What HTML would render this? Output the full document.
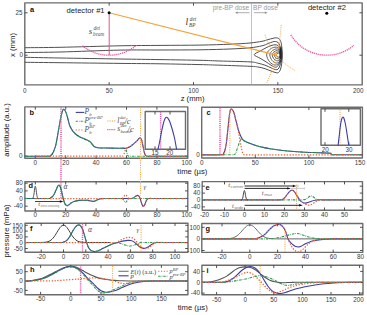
<!DOCTYPE html>
<html><head><meta charset="utf-8"><style>
html,body{margin:0;padding:0;background:#fff;}
svg{display:block;font-family:"Liberation Sans",sans-serif;}
.serif{font-family:"Liberation Serif",serif;font-style:italic;}
.rserif{font-family:"Liberation Serif",serif;}
</style></head><body>
<svg width="367" height="315" viewBox="0 0 367 315">
<rect width="367" height="315" fill="#fff"/>
<rect x="24.8" y="2.9" width="337.40" height="82.00" fill="none" stroke="#6c6c6c" stroke-width="1.4" stroke-linejoin="round"/>
<line x1="109.14999999999999" y1="84.9" x2="109.14999999999999" y2="82.10000000000001" stroke="#404040" stroke-width="0.9"/>
<line x1="109.14999999999999" y1="2.9" x2="109.14999999999999" y2="5.699999999999999" stroke="#404040" stroke-width="0.9"/>
<line x1="193.5" y1="84.9" x2="193.5" y2="82.10000000000001" stroke="#404040" stroke-width="0.9"/>
<line x1="193.5" y1="2.9" x2="193.5" y2="5.699999999999999" stroke="#404040" stroke-width="0.9"/>
<line x1="277.84999999999997" y1="84.9" x2="277.84999999999997" y2="82.10000000000001" stroke="#404040" stroke-width="0.9"/>
<line x1="277.84999999999997" y1="2.9" x2="277.84999999999997" y2="5.699999999999999" stroke="#404040" stroke-width="0.9"/>
<line x1="24.8" y1="12.8" x2="27.6" y2="12.8" stroke="#404040" stroke-width="0.9"/>
<line x1="362.2" y1="12.8" x2="359.4" y2="12.8" stroke="#404040" stroke-width="0.9"/>
<line x1="24.8" y1="55.2" x2="27.6" y2="55.2" stroke="#404040" stroke-width="0.9"/>
<line x1="362.2" y1="55.2" x2="359.4" y2="55.2" stroke="#404040" stroke-width="0.9"/>
<text x="24.8" y="93.06" font-size="6.3" text-anchor="middle" fill="#3a3a3a" >0</text>
<text x="109.2" y="93.06" font-size="6.3" text-anchor="middle" fill="#3a3a3a" >50</text>
<text x="193.4" y="93.06" font-size="6.3" text-anchor="middle" fill="#3a3a3a" >100</text>
<text x="277.9" y="93.06" font-size="6.3" text-anchor="middle" fill="#3a3a3a" >150</text>
<text x="358.3" y="93.06" font-size="6.3" text-anchor="middle" fill="#3a3a3a" >200</text>
<text x="22.5" y="15.16" font-size="6.3" text-anchor="end" fill="#3a3a3a" >25</text>
<text x="22.9" y="57.46" font-size="6.3" text-anchor="end" fill="#3a3a3a" >0</text>
<text x="192.6" y="100.6" font-size="7.7" text-anchor="middle" fill="#222">z (mm)</text>
<text transform="translate(14.98,45) rotate(-90)" font-size="7.7" text-anchor="middle" fill="#222">x (mm)</text>
<text x="29.9" y="12.2" font-size="7.4" font-weight="bold" fill="#111">a</text>
<rect x="24.8" y="106.9" width="163.00" height="51.30" fill="none" stroke="#6c6c6c" stroke-width="1.4" stroke-linejoin="round"/>
<line x1="35.3" y1="158.2" x2="35.3" y2="155.39999999999998" stroke="#404040" stroke-width="0.9"/>
<line x1="35.3" y1="106.9" x2="35.3" y2="109.7" stroke="#404040" stroke-width="0.9"/>
<text x="35.3" y="164.86" font-size="6.3" text-anchor="middle" fill="#3a3a3a" >0</text>
<line x1="65.69999999999999" y1="158.2" x2="65.69999999999999" y2="155.39999999999998" stroke="#404040" stroke-width="0.9"/>
<line x1="65.69999999999999" y1="106.9" x2="65.69999999999999" y2="109.7" stroke="#404040" stroke-width="0.9"/>
<text x="65.69999999999999" y="164.86" font-size="6.3" text-anchor="middle" fill="#3a3a3a" >20</text>
<line x1="96.1" y1="158.2" x2="96.1" y2="155.39999999999998" stroke="#404040" stroke-width="0.9"/>
<line x1="96.1" y1="106.9" x2="96.1" y2="109.7" stroke="#404040" stroke-width="0.9"/>
<text x="96.1" y="164.86" font-size="6.3" text-anchor="middle" fill="#3a3a3a" >40</text>
<line x1="126.5" y1="158.2" x2="126.5" y2="155.39999999999998" stroke="#404040" stroke-width="0.9"/>
<line x1="126.5" y1="106.9" x2="126.5" y2="109.7" stroke="#404040" stroke-width="0.9"/>
<text x="126.5" y="164.86" font-size="6.3" text-anchor="middle" fill="#3a3a3a" >60</text>
<line x1="156.89999999999998" y1="158.2" x2="156.89999999999998" y2="155.39999999999998" stroke="#404040" stroke-width="0.9"/>
<line x1="156.89999999999998" y1="106.9" x2="156.89999999999998" y2="109.7" stroke="#404040" stroke-width="0.9"/>
<text x="156.89999999999998" y="164.86" font-size="6.3" text-anchor="middle" fill="#3a3a3a" >80</text>
<text x="186.7" y="164.86" font-size="6.3" text-anchor="middle" fill="#3a3a3a" >100</text>
<line x1="24.8" y1="156.2" x2="27.6" y2="156.2" stroke="#404040" stroke-width="0.9"/>
<line x1="187.8" y1="156.2" x2="185.0" y2="156.2" stroke="#404040" stroke-width="0.9"/>
<text x="22.6" y="158.06" font-size="6.3" text-anchor="end" fill="#3a3a3a" >0</text>
<text x="29.5" y="114.6" font-size="7.4" font-weight="bold" fill="#111">b</text>
<text x="192.4" y="173.6" font-size="7.7" text-anchor="middle" fill="#222">time (µs)</text>
<text transform="translate(8.78,130) rotate(-90)" font-size="7.7" text-anchor="middle" fill="#222">amplitude (a.u.)</text>
<rect x="201.7" y="107.2" width="160.70" height="50.80" fill="none" stroke="#6c6c6c" stroke-width="1.4" stroke-linejoin="round"/>
<line x1="255.29999999999998" y1="158.0" x2="255.29999999999998" y2="155.2" stroke="#404040" stroke-width="0.9"/>
<line x1="255.29999999999998" y1="107.2" x2="255.29999999999998" y2="110.0" stroke="#404040" stroke-width="0.9"/>
<line x1="308.9" y1="158.0" x2="308.9" y2="155.2" stroke="#404040" stroke-width="0.9"/>
<line x1="308.9" y1="107.2" x2="308.9" y2="110.0" stroke="#404040" stroke-width="0.9"/>
<text x="201.7" y="164.66" font-size="6.3" text-anchor="middle" fill="#3a3a3a" >0</text>
<text x="255.29999999999998" y="164.66" font-size="6.3" text-anchor="middle" fill="#3a3a3a" >50</text>
<text x="308.9" y="164.66" font-size="6.3" text-anchor="middle" fill="#3a3a3a" >100</text>
<text x="360.1" y="164.66" font-size="6.3" text-anchor="middle" fill="#3a3a3a" >150</text>
<line x1="201.7" y1="154.8" x2="204.5" y2="154.8" stroke="#404040" stroke-width="0.9"/>
<line x1="362.4" y1="154.8" x2="359.59999999999997" y2="154.8" stroke="#404040" stroke-width="0.9"/>
<text x="199.8" y="157.26" font-size="6.3" text-anchor="end" fill="#3a3a3a" >0</text>
<text x="206.6" y="114.8" font-size="7.4" font-weight="bold" fill="#111">c</text>
<rect x="24.9" y="181.7" width="162.90" height="29.30" fill="none" stroke="#6c6c6c" stroke-width="1.4" stroke-linejoin="round"/>
<line x1="35.3" y1="211.0" x2="35.3" y2="208.2" stroke="#404040" stroke-width="0.9"/>
<line x1="35.3" y1="181.7" x2="35.3" y2="184.5" stroke="#404040" stroke-width="0.9"/>
<text x="35.3" y="217.06" font-size="6.3" text-anchor="middle" fill="#3a3a3a" >0</text>
<line x1="65.69999999999999" y1="211.0" x2="65.69999999999999" y2="208.2" stroke="#404040" stroke-width="0.9"/>
<line x1="65.69999999999999" y1="181.7" x2="65.69999999999999" y2="184.5" stroke="#404040" stroke-width="0.9"/>
<text x="65.69999999999999" y="217.06" font-size="6.3" text-anchor="middle" fill="#3a3a3a" >20</text>
<line x1="96.1" y1="211.0" x2="96.1" y2="208.2" stroke="#404040" stroke-width="0.9"/>
<line x1="96.1" y1="181.7" x2="96.1" y2="184.5" stroke="#404040" stroke-width="0.9"/>
<text x="96.1" y="217.06" font-size="6.3" text-anchor="middle" fill="#3a3a3a" >40</text>
<line x1="126.5" y1="211.0" x2="126.5" y2="208.2" stroke="#404040" stroke-width="0.9"/>
<line x1="126.5" y1="181.7" x2="126.5" y2="184.5" stroke="#404040" stroke-width="0.9"/>
<text x="126.5" y="217.06" font-size="6.3" text-anchor="middle" fill="#3a3a3a" >60</text>
<line x1="156.89999999999998" y1="211.0" x2="156.89999999999998" y2="208.2" stroke="#404040" stroke-width="0.9"/>
<line x1="156.89999999999998" y1="181.7" x2="156.89999999999998" y2="184.5" stroke="#404040" stroke-width="0.9"/>
<text x="156.89999999999998" y="217.06" font-size="6.3" text-anchor="middle" fill="#3a3a3a" >80</text>
<text x="186.7" y="217.06" font-size="6.3" text-anchor="middle" fill="#3a3a3a" >100</text>
<line x1="24.9" y1="183.2" x2="27.7" y2="183.2" stroke="#404040" stroke-width="0.9"/>
<line x1="187.8" y1="183.2" x2="185.0" y2="183.2" stroke="#404040" stroke-width="0.9"/>
<text x="22.8" y="185.46" font-size="6.3" text-anchor="end" fill="#3a3a3a" >80</text>
<line x1="24.9" y1="190.9" x2="27.7" y2="190.9" stroke="#404040" stroke-width="0.9"/>
<line x1="187.8" y1="190.9" x2="185.0" y2="190.9" stroke="#404040" stroke-width="0.9"/>
<text x="22.8" y="193.16" font-size="6.3" text-anchor="end" fill="#3a3a3a" >40</text>
<line x1="24.9" y1="198.4" x2="27.7" y2="198.4" stroke="#404040" stroke-width="0.9"/>
<line x1="187.8" y1="198.4" x2="185.0" y2="198.4" stroke="#404040" stroke-width="0.9"/>
<text x="22.8" y="200.66" font-size="6.3" text-anchor="end" fill="#3a3a3a" >0</text>
<line x1="24.9" y1="206.2" x2="27.7" y2="206.2" stroke="#404040" stroke-width="0.9"/>
<line x1="187.8" y1="206.2" x2="185.0" y2="206.2" stroke="#404040" stroke-width="0.9"/>
<text x="22.8" y="208.46" font-size="6.3" text-anchor="end" fill="#3a3a3a" >-40</text>
<text x="28.4" y="187.6" font-size="7.4" font-weight="bold" fill="#111">d</text>
<rect x="202.2" y="181.6" width="160.30" height="28.70" fill="none" stroke="#6c6c6c" stroke-width="1.4" stroke-linejoin="round"/>
<line x1="224.5" y1="210.3" x2="224.5" y2="207.5" stroke="#404040" stroke-width="0.9"/>
<line x1="224.5" y1="181.6" x2="224.5" y2="184.4" stroke="#404040" stroke-width="0.9"/>
<line x1="244.5" y1="210.3" x2="244.5" y2="207.5" stroke="#404040" stroke-width="0.9"/>
<line x1="244.5" y1="181.6" x2="244.5" y2="184.4" stroke="#404040" stroke-width="0.9"/>
<line x1="264.5" y1="210.3" x2="264.5" y2="207.5" stroke="#404040" stroke-width="0.9"/>
<line x1="264.5" y1="181.6" x2="264.5" y2="184.4" stroke="#404040" stroke-width="0.9"/>
<line x1="284.5" y1="210.3" x2="284.5" y2="207.5" stroke="#404040" stroke-width="0.9"/>
<line x1="284.5" y1="181.6" x2="284.5" y2="184.4" stroke="#404040" stroke-width="0.9"/>
<line x1="304.5" y1="210.3" x2="304.5" y2="207.5" stroke="#404040" stroke-width="0.9"/>
<line x1="304.5" y1="181.6" x2="304.5" y2="184.4" stroke="#404040" stroke-width="0.9"/>
<line x1="324.5" y1="210.3" x2="324.5" y2="207.5" stroke="#404040" stroke-width="0.9"/>
<line x1="324.5" y1="181.6" x2="324.5" y2="184.4" stroke="#404040" stroke-width="0.9"/>
<line x1="344.5" y1="210.3" x2="344.5" y2="207.5" stroke="#404040" stroke-width="0.9"/>
<line x1="344.5" y1="181.6" x2="344.5" y2="184.4" stroke="#404040" stroke-width="0.9"/>
<text x="204.5" y="217.26" font-size="6.3" text-anchor="middle" fill="#3a3a3a" >-20</text>
<text x="224.5" y="217.26" font-size="6.3" text-anchor="middle" fill="#3a3a3a" >-10</text>
<text x="244.5" y="217.26" font-size="6.3" text-anchor="middle" fill="#3a3a3a" >0</text>
<text x="264.5" y="217.26" font-size="6.3" text-anchor="middle" fill="#3a3a3a" >10</text>
<text x="284.5" y="217.26" font-size="6.3" text-anchor="middle" fill="#3a3a3a" >20</text>
<text x="304.5" y="217.26" font-size="6.3" text-anchor="middle" fill="#3a3a3a" >30</text>
<text x="324.5" y="217.26" font-size="6.3" text-anchor="middle" fill="#3a3a3a" >40</text>
<text x="344.5" y="217.26" font-size="6.3" text-anchor="middle" fill="#3a3a3a" >50</text>
<line x1="202.2" y1="186.2" x2="205.0" y2="186.2" stroke="#404040" stroke-width="0.9"/>
<line x1="362.5" y1="186.2" x2="359.7" y2="186.2" stroke="#404040" stroke-width="0.9"/>
<text x="200.2" y="188.46" font-size="6.3" text-anchor="end" fill="#3a3a3a" >80</text>
<line x1="202.2" y1="193.1" x2="205.0" y2="193.1" stroke="#404040" stroke-width="0.9"/>
<line x1="362.5" y1="193.1" x2="359.7" y2="193.1" stroke="#404040" stroke-width="0.9"/>
<text x="200.2" y="195.36" font-size="6.3" text-anchor="end" fill="#3a3a3a" >40</text>
<line x1="202.2" y1="200.0" x2="205.0" y2="200.0" stroke="#404040" stroke-width="0.9"/>
<line x1="362.5" y1="200.0" x2="359.7" y2="200.0" stroke="#404040" stroke-width="0.9"/>
<text x="200.2" y="202.26" font-size="6.3" text-anchor="end" fill="#3a3a3a" >0</text>
<line x1="202.2" y1="206.9" x2="205.0" y2="206.9" stroke="#404040" stroke-width="0.9"/>
<line x1="362.5" y1="206.9" x2="359.7" y2="206.9" stroke="#404040" stroke-width="0.9"/>
<text x="200.2" y="209.16" font-size="6.3" text-anchor="end" fill="#3a3a3a" >-40</text>
<text x="205.5" y="189.9" font-size="7.4" font-weight="bold" fill="#111">e</text>
<rect x="25.0" y="223.2" width="163.00" height="29.00" fill="none" stroke="#6c6c6c" stroke-width="1.4" stroke-linejoin="round"/>
<line x1="41.2" y1="252.2" x2="41.2" y2="249.39999999999998" stroke="#404040" stroke-width="0.9"/>
<line x1="41.2" y1="223.2" x2="41.2" y2="226.0" stroke="#404040" stroke-width="0.9"/>
<text x="41.2" y="258.86" font-size="6.3" text-anchor="middle" fill="#3a3a3a" >-20</text>
<line x1="63.5" y1="252.2" x2="63.5" y2="249.39999999999998" stroke="#404040" stroke-width="0.9"/>
<line x1="63.5" y1="223.2" x2="63.5" y2="226.0" stroke="#404040" stroke-width="0.9"/>
<text x="63.5" y="258.86" font-size="6.3" text-anchor="middle" fill="#3a3a3a" >0</text>
<line x1="85.8" y1="252.2" x2="85.8" y2="249.39999999999998" stroke="#404040" stroke-width="0.9"/>
<line x1="85.8" y1="223.2" x2="85.8" y2="226.0" stroke="#404040" stroke-width="0.9"/>
<text x="85.8" y="258.86" font-size="6.3" text-anchor="middle" fill="#3a3a3a" >20</text>
<line x1="108.1" y1="252.2" x2="108.1" y2="249.39999999999998" stroke="#404040" stroke-width="0.9"/>
<line x1="108.1" y1="223.2" x2="108.1" y2="226.0" stroke="#404040" stroke-width="0.9"/>
<text x="108.1" y="258.86" font-size="6.3" text-anchor="middle" fill="#3a3a3a" >40</text>
<line x1="130.4" y1="252.2" x2="130.4" y2="249.39999999999998" stroke="#404040" stroke-width="0.9"/>
<line x1="130.4" y1="223.2" x2="130.4" y2="226.0" stroke="#404040" stroke-width="0.9"/>
<text x="130.4" y="258.86" font-size="6.3" text-anchor="middle" fill="#3a3a3a" >60</text>
<line x1="152.7" y1="252.2" x2="152.7" y2="249.39999999999998" stroke="#404040" stroke-width="0.9"/>
<line x1="152.7" y1="223.2" x2="152.7" y2="226.0" stroke="#404040" stroke-width="0.9"/>
<text x="152.7" y="258.86" font-size="6.3" text-anchor="middle" fill="#3a3a3a" >80</text>
<line x1="175.0" y1="252.2" x2="175.0" y2="249.39999999999998" stroke="#404040" stroke-width="0.9"/>
<line x1="175.0" y1="223.2" x2="175.0" y2="226.0" stroke="#404040" stroke-width="0.9"/>
<text x="175.0" y="258.86" font-size="6.3" text-anchor="middle" fill="#3a3a3a" >100</text>
<line x1="25.0" y1="225.3" x2="27.8" y2="225.3" stroke="#404040" stroke-width="0.9"/>
<line x1="188.0" y1="225.3" x2="185.2" y2="225.3" stroke="#404040" stroke-width="0.9"/>
<text x="22.8" y="227.56" font-size="6.3" text-anchor="end" fill="#3a3a3a" >150</text>
<line x1="25.0" y1="231.1" x2="27.8" y2="231.1" stroke="#404040" stroke-width="0.9"/>
<line x1="188.0" y1="231.1" x2="185.2" y2="231.1" stroke="#404040" stroke-width="0.9"/>
<text x="22.8" y="233.36" font-size="6.3" text-anchor="end" fill="#3a3a3a" >100</text>
<line x1="25.0" y1="236.9" x2="27.8" y2="236.9" stroke="#404040" stroke-width="0.9"/>
<line x1="188.0" y1="236.9" x2="185.2" y2="236.9" stroke="#404040" stroke-width="0.9"/>
<text x="22.8" y="239.16" font-size="6.3" text-anchor="end" fill="#3a3a3a" >50</text>
<line x1="25.0" y1="242.6" x2="27.8" y2="242.6" stroke="#404040" stroke-width="0.9"/>
<line x1="188.0" y1="242.6" x2="185.2" y2="242.6" stroke="#404040" stroke-width="0.9"/>
<text x="22.8" y="244.86" font-size="6.3" text-anchor="end" fill="#3a3a3a" >0</text>
<line x1="25.0" y1="248.5" x2="27.8" y2="248.5" stroke="#404040" stroke-width="0.9"/>
<line x1="188.0" y1="248.5" x2="185.2" y2="248.5" stroke="#404040" stroke-width="0.9"/>
<text x="22.8" y="250.76" font-size="6.3" text-anchor="end" fill="#3a3a3a" >-50</text>
<text x="29.9" y="231.4" font-size="7.4" font-weight="bold" fill="#111">f</text>
<text transform="translate(8.78,231) rotate(-90)" font-size="7.7" text-anchor="middle" fill="#222">pressure (mPa)</text>
<rect x="201.8" y="223.5" width="161.00" height="28.90" fill="none" stroke="#6c6c6c" stroke-width="1.4" stroke-linejoin="round"/>
<line x1="222.0" y1="252.4" x2="222.0" y2="249.6" stroke="#404040" stroke-width="0.9"/>
<line x1="222.0" y1="223.5" x2="222.0" y2="226.3" stroke="#404040" stroke-width="0.9"/>
<line x1="249.8" y1="252.4" x2="249.8" y2="249.6" stroke="#404040" stroke-width="0.9"/>
<line x1="249.8" y1="223.5" x2="249.8" y2="226.3" stroke="#404040" stroke-width="0.9"/>
<line x1="277.6" y1="252.4" x2="277.6" y2="249.6" stroke="#404040" stroke-width="0.9"/>
<line x1="277.6" y1="223.5" x2="277.6" y2="226.3" stroke="#404040" stroke-width="0.9"/>
<line x1="305.4" y1="252.4" x2="305.4" y2="249.6" stroke="#404040" stroke-width="0.9"/>
<line x1="305.4" y1="223.5" x2="305.4" y2="226.3" stroke="#404040" stroke-width="0.9"/>
<line x1="333.2" y1="252.4" x2="333.2" y2="249.6" stroke="#404040" stroke-width="0.9"/>
<line x1="333.2" y1="223.5" x2="333.2" y2="226.3" stroke="#404040" stroke-width="0.9"/>
<text x="222.0" y="258.86" font-size="6.3" text-anchor="middle" fill="#3a3a3a" >-20</text>
<text x="249.8" y="258.86" font-size="6.3" text-anchor="middle" fill="#3a3a3a" >0</text>
<text x="277.6" y="258.86" font-size="6.3" text-anchor="middle" fill="#3a3a3a" >20</text>
<text x="305.4" y="258.86" font-size="6.3" text-anchor="middle" fill="#3a3a3a" >40</text>
<text x="333.2" y="258.86" font-size="6.3" text-anchor="middle" fill="#3a3a3a" >60</text>
<text x="360.6" y="258.86" font-size="6.3" text-anchor="middle" fill="#3a3a3a" >80</text>
<line x1="201.8" y1="227.3" x2="204.60000000000002" y2="227.3" stroke="#404040" stroke-width="0.9"/>
<line x1="362.8" y1="227.3" x2="360.0" y2="227.3" stroke="#404040" stroke-width="0.9"/>
<text x="199.9" y="229.56" font-size="6.3" text-anchor="end" fill="#3a3a3a" >100</text>
<line x1="201.8" y1="238.9" x2="204.60000000000002" y2="238.9" stroke="#404040" stroke-width="0.9"/>
<line x1="362.8" y1="238.9" x2="360.0" y2="238.9" stroke="#404040" stroke-width="0.9"/>
<text x="199.9" y="241.16" font-size="6.3" text-anchor="end" fill="#3a3a3a" >0</text>
<line x1="201.8" y1="250.5" x2="204.60000000000002" y2="250.5" stroke="#404040" stroke-width="0.9"/>
<line x1="362.8" y1="250.5" x2="360.0" y2="250.5" stroke="#404040" stroke-width="0.9"/>
<text x="199.9" y="252.76" font-size="6.3" text-anchor="end" fill="#3a3a3a" >-100</text>
<text x="205.6" y="231.1" font-size="7.4" font-weight="bold" fill="#111">g</text>
<rect x="25.0" y="265.1" width="162.90" height="29.60" fill="none" stroke="#6c6c6c" stroke-width="1.4" stroke-linejoin="round"/>
<line x1="40.599999999999994" y1="294.7" x2="40.599999999999994" y2="291.9" stroke="#404040" stroke-width="0.9"/>
<line x1="40.599999999999994" y1="265.1" x2="40.599999999999994" y2="267.90000000000003" stroke="#404040" stroke-width="0.9"/>
<text x="40.599999999999994" y="301.16" font-size="6.3" text-anchor="middle" fill="#3a3a3a" >-50</text>
<line x1="70.8" y1="294.7" x2="70.8" y2="291.9" stroke="#404040" stroke-width="0.9"/>
<line x1="70.8" y1="265.1" x2="70.8" y2="267.90000000000003" stroke="#404040" stroke-width="0.9"/>
<text x="70.8" y="301.16" font-size="6.3" text-anchor="middle" fill="#3a3a3a" >0</text>
<line x1="101.0" y1="294.7" x2="101.0" y2="291.9" stroke="#404040" stroke-width="0.9"/>
<line x1="101.0" y1="265.1" x2="101.0" y2="267.90000000000003" stroke="#404040" stroke-width="0.9"/>
<text x="101.0" y="301.16" font-size="6.3" text-anchor="middle" fill="#3a3a3a" >50</text>
<line x1="131.2" y1="294.7" x2="131.2" y2="291.9" stroke="#404040" stroke-width="0.9"/>
<line x1="131.2" y1="265.1" x2="131.2" y2="267.90000000000003" stroke="#404040" stroke-width="0.9"/>
<text x="131.2" y="301.16" font-size="6.3" text-anchor="middle" fill="#3a3a3a" >100</text>
<line x1="161.39999999999998" y1="294.7" x2="161.39999999999998" y2="291.9" stroke="#404040" stroke-width="0.9"/>
<line x1="161.39999999999998" y1="265.1" x2="161.39999999999998" y2="267.90000000000003" stroke="#404040" stroke-width="0.9"/>
<text x="161.39999999999998" y="301.16" font-size="6.3" text-anchor="middle" fill="#3a3a3a" >150</text>
<line x1="25.0" y1="271.7" x2="27.8" y2="271.7" stroke="#404040" stroke-width="0.9"/>
<line x1="187.9" y1="271.7" x2="185.1" y2="271.7" stroke="#404040" stroke-width="0.9"/>
<text x="22.8" y="273.96" font-size="6.3" text-anchor="end" fill="#3a3a3a" >50</text>
<line x1="25.0" y1="281.1" x2="27.8" y2="281.1" stroke="#404040" stroke-width="0.9"/>
<line x1="187.9" y1="281.1" x2="185.1" y2="281.1" stroke="#404040" stroke-width="0.9"/>
<text x="22.8" y="283.36" font-size="6.3" text-anchor="end" fill="#3a3a3a" >0</text>
<line x1="25.0" y1="290.4" x2="27.8" y2="290.4" stroke="#404040" stroke-width="0.9"/>
<line x1="187.9" y1="290.4" x2="185.1" y2="290.4" stroke="#404040" stroke-width="0.9"/>
<text x="22.8" y="292.66" font-size="6.3" text-anchor="end" fill="#3a3a3a" >-50</text>
<text x="29.9" y="271.6" font-size="7.4" font-weight="bold" fill="#111">h</text>
<text x="192.7" y="309.6" font-size="7.7" text-anchor="middle" fill="#222">time (µs)</text>
<rect x="201.9" y="265.2" width="161.10" height="29.60" fill="none" stroke="#6c6c6c" stroke-width="1.4" stroke-linejoin="round"/>
<line x1="216.6" y1="294.8" x2="216.6" y2="292.0" stroke="#404040" stroke-width="0.9"/>
<line x1="216.6" y1="265.2" x2="216.6" y2="268.0" stroke="#404040" stroke-width="0.9"/>
<text x="216.6" y="301.86" font-size="6.3" text-anchor="middle" fill="#3a3a3a" >-50</text>
<line x1="245.2" y1="294.8" x2="245.2" y2="292.0" stroke="#404040" stroke-width="0.9"/>
<line x1="245.2" y1="265.2" x2="245.2" y2="268.0" stroke="#404040" stroke-width="0.9"/>
<text x="245.2" y="301.86" font-size="6.3" text-anchor="middle" fill="#3a3a3a" >0</text>
<line x1="273.8" y1="294.8" x2="273.8" y2="292.0" stroke="#404040" stroke-width="0.9"/>
<line x1="273.8" y1="265.2" x2="273.8" y2="268.0" stroke="#404040" stroke-width="0.9"/>
<text x="273.8" y="301.86" font-size="6.3" text-anchor="middle" fill="#3a3a3a" >50</text>
<line x1="302.4" y1="294.8" x2="302.4" y2="292.0" stroke="#404040" stroke-width="0.9"/>
<line x1="302.4" y1="265.2" x2="302.4" y2="268.0" stroke="#404040" stroke-width="0.9"/>
<text x="302.4" y="301.86" font-size="6.3" text-anchor="middle" fill="#3a3a3a" >100</text>
<line x1="331.0" y1="294.8" x2="331.0" y2="292.0" stroke="#404040" stroke-width="0.9"/>
<line x1="331.0" y1="265.2" x2="331.0" y2="268.0" stroke="#404040" stroke-width="0.9"/>
<text x="331.0" y="301.86" font-size="6.3" text-anchor="middle" fill="#3a3a3a" >150</text>
<line x1="359.59999999999997" y1="294.8" x2="359.59999999999997" y2="292.0" stroke="#404040" stroke-width="0.9"/>
<line x1="359.59999999999997" y1="265.2" x2="359.59999999999997" y2="268.0" stroke="#404040" stroke-width="0.9"/>
<text x="358.5" y="301.86" font-size="6.3" text-anchor="middle" fill="#3a3a3a" >200</text>
<line x1="201.9" y1="271.4" x2="204.70000000000002" y2="271.4" stroke="#404040" stroke-width="0.9"/>
<line x1="363.0" y1="271.4" x2="360.2" y2="271.4" stroke="#404040" stroke-width="0.9"/>
<text x="199.9" y="273.66" font-size="6.3" text-anchor="end" fill="#3a3a3a" >40</text>
<line x1="201.9" y1="282.3" x2="204.70000000000002" y2="282.3" stroke="#404040" stroke-width="0.9"/>
<line x1="363.0" y1="282.3" x2="360.2" y2="282.3" stroke="#404040" stroke-width="0.9"/>
<text x="199.9" y="284.56" font-size="6.3" text-anchor="end" fill="#3a3a3a" >0</text>
<line x1="201.9" y1="293.1" x2="204.70000000000002" y2="293.1" stroke="#404040" stroke-width="0.9"/>
<line x1="363.0" y1="293.1" x2="360.2" y2="293.1" stroke="#404040" stroke-width="0.9"/>
<text x="199.9" y="295.36" font-size="6.3" text-anchor="end" fill="#3a3a3a" >-40</text>
<text x="206.6" y="273.0" font-size="7.4" font-weight="bold" fill="#111">i</text>
<line x1="251.5" y1="3.5" x2="251.5" y2="84.3" stroke="#b4b4b4" stroke-width="0.8"/>
<path d="M24.80,47.70 C30.67,47.63 44.13,47.62 60.00,47.30 C75.87,46.98 103.33,46.12 120.00,45.80 C136.67,45.48 146.67,45.52 160.00,45.40 C173.33,45.28 188.33,45.30 200.00,45.10 C211.67,44.90 221.67,44.55 230.00,44.20 C238.33,43.85 244.67,43.48 250.00,43.00 C255.33,42.52 259.00,41.87 262.00,41.30 C265.00,40.73 266.17,40.10 268.00,39.60 C269.83,39.10 271.62,38.60 273.00,38.30 C274.38,38.00 275.33,37.75 276.30,37.80 C277.27,37.85 278.07,38.02 278.80,38.60 C279.53,39.18 280.20,39.90 280.70,41.30 C281.20,42.70 281.55,44.72 281.80,47.00 C282.05,49.28 282.20,52.33 282.20,55.00 C282.20,57.67 282.07,60.67 281.80,63.00 C281.53,65.33 281.17,67.40 280.60,69.00 C280.03,70.60 279.33,72.03 278.40,72.60 C277.47,73.17 276.40,72.73 275.00,72.40 C273.60,72.07 271.83,71.27 270.00,70.60 C268.17,69.93 266.00,69.00 264.00,68.40 C262.00,67.80 260.33,67.35 258.00,67.00 C255.67,66.65 256.33,66.60 250.00,66.30 C243.67,66.00 228.33,65.48 220.00,65.20 C211.67,64.92 210.00,64.83 200.00,64.60 C190.00,64.37 173.33,64.00 160.00,63.80 C146.67,63.60 136.67,63.58 120.00,63.40 C103.33,63.22 75.87,62.88 60.00,62.70 C44.13,62.52 30.67,62.37 24.80,62.30" fill="none" stroke="#505050" stroke-width="1.0" />
<path d="M24.80,52.50 C30.67,52.42 44.13,52.40 60.00,52.00 C75.87,51.60 103.33,50.43 120.00,50.10 C136.67,49.77 146.67,50.05 160.00,50.00 C173.33,49.95 188.33,49.97 200.00,49.80 C211.67,49.63 221.67,49.33 230.00,49.00 C238.33,48.67 244.67,48.33 250.00,47.80 C255.33,47.27 259.00,46.50 262.00,45.80 C265.00,45.10 266.25,44.25 268.00,43.60 C269.75,42.95 271.25,42.25 272.50,41.90 C273.75,41.55 274.55,41.38 275.50,41.50 C276.45,41.62 277.48,41.93 278.20,42.60 C278.92,43.27 279.37,44.27 279.80,45.50 C280.23,46.73 280.58,48.42 280.80,50.00 C281.02,51.58 281.10,53.17 281.10,55.00 C281.10,56.83 281.02,59.17 280.80,61.00 C280.58,62.83 280.27,64.63 279.80,66.00 C279.33,67.37 278.72,68.60 278.00,69.20 C277.28,69.80 276.67,69.83 275.50,69.60 C274.33,69.37 272.75,68.53 271.00,67.80 C269.25,67.07 267.17,65.97 265.00,65.20 C262.83,64.43 260.50,63.75 258.00,63.20 C255.50,62.65 256.33,62.27 250.00,61.90 C243.67,61.53 228.33,61.27 220.00,61.00 C211.67,60.73 210.00,60.53 200.00,60.30 C190.00,60.07 173.33,59.82 160.00,59.60 C146.67,59.38 136.67,59.27 120.00,59.00 C103.33,58.73 75.87,58.28 60.00,58.00 C44.13,57.72 30.67,57.42 24.80,57.30" fill="none" stroke="#505050" stroke-width="1.0" />
<path d="M254.20,54.70 C254.20,53.53 258.03,52.35 260.00,51.20 C261.97,50.05 264.17,48.73 266.00,47.80 C267.83,46.87 269.50,46.10 271.00,45.60 C272.50,45.10 273.83,44.80 275.00,44.80 C276.17,44.80 277.20,44.98 278.00,45.60 C278.80,46.22 279.37,46.93 279.80,48.50 C280.23,50.07 280.60,52.75 280.60,55.00 C280.60,57.25 280.23,60.20 279.80,62.00 C279.37,63.80 278.72,64.93 278.00,65.80 C277.28,66.67 276.67,67.30 275.50,67.20 C274.33,67.10 272.58,66.10 271.00,65.20 C269.42,64.30 267.83,62.97 266.00,61.80 C264.17,60.63 261.97,59.38 260.00,58.20 C258.03,57.02 254.20,55.87 254.20,54.70Z" fill="none" stroke="#505050" stroke-width="1.0" />
<path d="M266.60,55.00 C266.60,52.94 268.29,50.87 269.70,49.56 C271.11,48.25 273.39,47.24 275.06,47.15 C276.73,47.06 278.76,47.69 279.70,49.00 C280.64,50.31 280.70,52.73 280.70,55.00 C280.70,57.27 280.64,60.98 279.70,62.65 C278.76,64.33 276.73,65.17 275.06,65.05 C273.39,64.93 271.11,63.61 269.70,61.94 C268.29,60.26 266.60,57.06 266.60,55.00Z" fill="none" stroke="#505050" stroke-width="0.9" />
<path d="M269.80,55.00 C269.80,53.37 271.11,51.79 272.20,50.78 C273.29,49.78 275.09,49.02 276.34,48.95 C277.59,48.88 278.97,49.34 279.70,50.35 C280.43,51.36 280.70,53.20 280.70,55.00 C280.70,56.80 280.43,59.81 279.70,61.15 C278.97,62.49 277.59,63.15 276.34,63.05 C275.09,62.95 273.29,61.92 272.20,60.58 C271.11,59.23 269.80,56.63 269.80,55.00Z" fill="none" stroke="#505050" stroke-width="0.9" />
<path d="M272.20,55.00 C272.20,53.80 273.22,52.61 274.07,51.87 C274.92,51.13 276.36,50.60 277.30,50.55 C278.24,50.50 279.13,50.81 279.70,51.55 C280.27,52.29 280.70,53.67 280.70,55.00 C280.70,56.33 280.27,58.52 279.70,59.50 C279.13,60.48 278.24,60.92 277.30,60.85 C276.36,60.78 274.92,60.05 274.07,59.08 C273.22,58.10 272.20,56.20 272.20,55.00Z" fill="none" stroke="#505050" stroke-width="0.9" />
<path d="M274.20,55.00 C274.20,54.18 274.98,53.33 275.63,52.82 C276.28,52.32 277.42,51.99 278.10,51.95 C278.78,51.91 279.27,52.09 279.70,52.60 C280.13,53.11 280.70,54.10 280.70,55.00 C280.70,55.90 280.13,57.36 279.70,58.00 C279.27,58.64 278.78,58.90 278.10,58.85 C277.42,58.80 276.28,58.36 275.63,57.72 C274.98,57.08 274.20,55.82 274.20,55.00Z" fill="none" stroke="#505050" stroke-width="0.9" />
<path d="M275.90,55.00 C275.90,54.51 276.48,53.95 276.96,53.64 C277.44,53.33 278.32,53.17 278.78,53.15 C279.24,53.13 279.38,53.19 279.70,53.50 C280.02,53.81 280.70,54.46 280.70,55.00 C280.70,55.54 280.02,56.37 279.70,56.72 C279.38,57.08 279.24,57.18 278.78,57.15 C278.32,57.12 277.44,56.92 276.96,56.56 C276.48,56.21 275.90,55.49 275.90,55.00Z" fill="none" stroke="#505050" stroke-width="0.9" />
<ellipse cx="281.0" cy="54.5" rx="1.4" ry="8.0" fill="#2a2a2a" opacity="0.85"/>
<ellipse cx="280.3" cy="54.5" rx="1.0" ry="5.5" fill="#1a1a1a" opacity="0.6"/>
<line x1="109.2" y1="12.8" x2="109.2" y2="55.2" stroke="#ec4d9e" stroke-width="1.0"/>
<path d="M82.42,45.75 L83.55,46.64 L84.72,47.49 L85.91,48.30 L87.14,49.07 L88.38,49.79 L89.65,50.48 L90.95,51.12 L92.26,51.71 L93.59,52.26 L94.95,52.77 L96.31,53.23 L97.70,53.64 L99.09,54.00 L100.50,54.32 L101.92,54.59 L103.35,54.81 L104.78,54.98 L106.22,55.10 L107.66,55.18 L109.10,55.20 L110.54,55.18 L111.98,55.10 L113.42,54.98 L114.85,54.81 L116.28,54.59 L117.70,54.32 L119.11,54.00 L120.50,53.64 L121.89,53.23 L123.25,52.77 L124.61,52.26 L125.94,51.71 L127.25,51.12 L128.55,50.48 L129.82,49.79 L131.06,49.07 L132.29,48.30 L133.48,47.49 L134.65,46.64 L135.78,45.75" fill="none" stroke="#ec4d9e" stroke-width="1.3" stroke-dasharray="1.2,0.8" />
<path d="M290.80,34.83 L291.77,36.37 L292.80,37.86 L293.90,39.30 L295.05,40.70 L296.27,42.04 L297.55,43.34 L298.87,44.57 L300.25,45.75 L301.69,46.86 L303.16,47.92 L304.68,48.91 L306.25,49.83 L307.85,50.68 L309.48,51.46 L311.15,52.18 L312.85,52.82 L314.57,53.38 L316.32,53.87 L318.09,54.29 L319.87,54.62 L321.66,54.88 L323.47,55.07 L325.28,55.17 L327.09,55.20 L328.91,55.15 L330.72,55.02 L332.52,54.81 L334.31,54.52 L336.09,54.16 L337.85,53.72 L339.59,53.21 L341.30,52.62 L342.99,51.95 L344.65,51.22 L346.27,50.41 L347.86,49.54 L349.41,48.59 L350.92,47.58 L352.38,46.51 L353.80,45.37" fill="none" stroke="#ec4d9e" stroke-width="1.3" stroke-dasharray="1.2,0.8" />
<line x1="109.1" y1="12.8" x2="276.4" y2="55.1" stroke="#f5a23c" stroke-width="1.1"/>
<path d="M281.23,25.10 L281.11,26.62 L280.98,28.13 L280.84,29.65 L280.69,31.16 L280.52,32.67 L280.33,34.18 L280.14,35.69 L279.93,37.20 L279.71,38.71 L279.47,40.21 L279.23,41.71 L278.96,43.21 L278.69,44.71 L278.40,46.20 L278.10,47.69 L277.79,49.18 L277.46,50.67 L277.12,52.15 L276.76,53.63 L276.40,55.11 L276.02,56.58 L275.63,58.05 L275.22,59.52 L274.80,60.98 L274.37,62.44 L273.93,63.89 L273.47,65.34 L273.00,66.79 L272.52,68.24 L272.02,69.67 L271.52,71.11 L270.99,72.54 L270.46,73.96 L269.92,75.38 L269.36,76.80 L268.79,78.21 L268.20,79.62 L267.61,81.02 L267.00,82.41 L266.38,83.80" fill="none" stroke="#f5a23c" stroke-width="1.0" stroke-dasharray="1,1.1" />
<path d="M264.95,34.88 L265.35,35.99 L265.77,37.09 L266.21,38.18 L266.66,39.27 L267.14,40.34 L267.64,41.41 L268.16,42.47 L268.69,43.52 L269.25,44.56 L269.82,45.59 L270.41,46.61 L271.02,47.62 L271.65,48.61 L272.29,49.60 L272.96,50.57 L273.64,51.53 L274.34,52.48 L275.05,53.42 L275.78,54.34 L276.53,55.25 L277.29,56.15 L278.07,57.03 L278.87,57.90 L279.68,58.76 L280.51,59.60 L281.35,60.42 L282.20,61.23 L283.08,62.03 L283.96,62.80 L284.86,63.57 L285.77,64.31 L286.70,65.04 L287.63,65.75 L288.59,66.45 L289.55,67.13 L290.52,67.79 L291.51,68.43 L292.51,69.06 L293.52,69.66 L294.54,70.25" fill="none" stroke="#f5a23c" stroke-width="1.0" stroke-dasharray="1,1.1" />
<circle cx="109.1" cy="12.8" r="1.5" fill="#000"/>
<circle cx="326.8" cy="13.2" r="1.5" fill="#000"/>
<text x="104.6" y="12.9" font-size="7.6" text-anchor="end" fill="#222">detector #1</text>
<text x="326.9" y="9.9" font-size="7.6" text-anchor="middle" fill="#222">detector #2</text>
<text x="249.2" y="10.0" font-size="6.6" text-anchor="end" fill="#999">pre-BP dose</text>
<text x="253.0" y="10.0" font-size="6.6" text-anchor="start" fill="#999">BP dose</text>
<line x1="249.6" y1="12.7" x2="236.5" y2="12.7" stroke="#8a8a8a" stroke-width="0.7"/>
<path d="M235.0,12.7 L237.6,11.6 L237.6,13.8 Z" fill="#8a8a8a"/>
<line x1="254.0" y1="12.7" x2="266.0" y2="12.7" stroke="#8a8a8a" stroke-width="0.7"/>
<path d="M267.5,12.7 L264.9,11.6 L264.9,13.8 Z" fill="#8a8a8a"/>
<text class="serif" x="88.8" y="33.9" font-size="8.8" fill="#444">s</text>
<text class="serif" x="93.4" y="30.0" font-size="5.5" fill="#555">det</text>
<text class="serif" x="93.1" y="35.8" font-size="5.5" fill="#555" textLength="11" lengthAdjust="spacingAndGlyphs">beam</text>
<text class="serif" x="185.6" y="25.0" font-size="9.5" fill="#333">l</text>
<text class="serif" x="189.8" y="20.9" font-size="5.2" fill="#444">det</text>
<text class="serif" x="189.0" y="27.0" font-size="5.2" fill="#444">BP</text>
<path d="M24.80,156.20 C28.67,156.20 43.75,156.28 48.00,156.20 C52.25,156.12 49.55,156.13 50.30,155.70 C51.05,155.27 51.72,154.90 52.50,153.60 C53.28,152.30 54.33,149.92 55.00,147.90 C55.67,145.88 56.02,143.88 56.50,141.50 C56.98,139.12 57.42,136.35 57.90,133.60 C58.38,130.85 58.93,127.62 59.40,125.00 C59.87,122.38 60.28,119.93 60.70,117.90 C61.12,115.87 61.53,114.12 61.90,112.80 C62.27,111.48 62.62,110.58 62.90,110.00 C63.18,109.42 63.35,109.35 63.60,109.30 C63.85,109.25 64.10,109.37 64.40,109.70 C64.70,110.03 65.07,110.65 65.40,111.30 C65.73,111.95 66.05,112.58 66.40,113.60 C66.75,114.62 67.13,116.07 67.50,117.40 C67.87,118.73 68.25,120.30 68.60,121.60 C68.95,122.90 69.25,124.20 69.60,125.20 C69.95,126.20 70.30,126.80 70.70,127.60 C71.10,128.40 71.52,129.27 72.00,130.00 C72.48,130.73 73.02,131.33 73.60,132.00 C74.18,132.67 74.78,133.38 75.50,134.00 C76.22,134.62 77.07,135.17 77.90,135.70 C78.73,136.23 79.55,136.72 80.50,137.20 C81.45,137.68 82.60,138.17 83.60,138.60 C84.60,139.03 85.55,139.37 86.50,139.80 C87.45,140.23 88.58,140.77 89.30,141.20 C90.02,141.63 90.33,141.92 90.80,142.40 C91.27,142.88 91.65,143.52 92.10,144.10 C92.55,144.68 93.02,145.40 93.50,145.90 C93.98,146.40 94.27,146.78 95.00,147.10 C95.73,147.42 96.78,147.65 97.90,147.80 C99.02,147.95 99.68,147.95 101.70,148.00 C103.72,148.05 107.28,148.07 110.00,148.10 C112.72,148.13 115.43,148.17 118.00,148.20 C120.57,148.23 123.57,148.45 125.40,148.30 C127.23,148.15 127.80,147.88 129.00,147.30 C130.20,146.72 131.55,145.62 132.60,144.80 C133.65,143.98 134.50,143.15 135.30,142.40 C136.10,141.65 136.78,140.95 137.40,140.30 C138.02,139.65 138.55,138.92 139.00,138.50 C139.45,138.08 139.73,137.72 140.10,137.80 C140.47,137.88 140.83,138.20 141.20,139.00 C141.57,139.80 141.93,141.07 142.30,142.60 C142.67,144.13 143.03,146.47 143.40,148.20 C143.77,149.93 144.13,151.78 144.50,153.00 C144.87,154.22 145.18,154.97 145.60,155.50 C146.02,156.03 146.27,156.08 147.00,156.20 C147.73,156.32 149.50,156.20 150.00,156.20 L187.4,156.2" fill="none" stroke="#3c3ca6" stroke-width="1.1" />
<path d="M24.80,156.20 C28.67,156.20 43.75,156.28 48.00,156.20 C52.25,156.12 49.55,156.13 50.30,155.70 C51.05,155.27 51.72,154.90 52.50,153.60 C53.28,152.30 54.33,149.92 55.00,147.90 C55.67,145.88 56.02,143.88 56.50,141.50 C56.98,139.12 57.42,136.35 57.90,133.60 C58.38,130.85 58.93,127.62 59.40,125.00 C59.87,122.38 60.28,119.93 60.70,117.90 C61.12,115.87 61.53,114.12 61.90,112.80 C62.27,111.48 62.62,110.58 62.90,110.00 C63.18,109.42 63.35,109.35 63.60,109.30 C63.85,109.25 64.10,109.37 64.40,109.70 C64.70,110.03 65.07,110.65 65.40,111.30 C65.73,111.95 66.05,112.58 66.40,113.60 C66.75,114.62 67.13,116.07 67.50,117.40 C67.87,118.73 68.25,120.30 68.60,121.60 C68.95,122.90 69.25,124.20 69.60,125.20 C69.95,126.20 70.30,126.80 70.70,127.60 C71.10,128.40 71.52,129.27 72.00,130.00 C72.48,130.73 73.02,131.33 73.60,132.00 C74.18,132.67 74.78,133.38 75.50,134.00 C76.22,134.62 77.07,135.17 77.90,135.70 C78.73,136.23 79.55,136.72 80.50,137.20 C81.45,137.68 82.60,138.17 83.60,138.60 C84.60,139.03 85.55,139.37 86.50,139.80 C87.45,140.23 88.58,140.77 89.30,141.20 C90.02,141.63 90.33,141.92 90.80,142.40 C91.27,142.88 91.65,143.52 92.10,144.10 C92.55,144.68 93.02,145.40 93.50,145.90 C93.98,146.40 94.27,146.78 95.00,147.10 C95.73,147.42 96.78,147.65 97.90,147.80 C99.02,147.95 99.68,147.95 101.70,148.00 C103.72,148.05 107.28,148.07 110.00,148.10 C112.72,148.13 115.43,148.17 118.00,148.20 C120.57,148.23 123.98,147.75 125.40,148.30 C126.82,148.85 126.13,150.33 126.50,151.50 C126.87,152.67 127.25,154.52 127.60,155.30 C127.95,156.08 128.20,156.05 128.60,156.20 C129.00,156.35 129.77,156.20 130.00,156.20 L187.4,156.2" fill="none" stroke="#2a9a4a" stroke-width="1.1" stroke-dasharray="2.6,1.0,0.7,1.0" />
<path d="M35.3,156.2 L122.6,156.2 L122.60,156.20 C122.83,155.88 123.57,155.30 124.00,154.30 C124.43,153.30 124.73,151.25 125.20,150.20 C125.67,149.15 126.25,148.53 126.80,148.00 C127.35,147.47 127.53,147.53 128.50,147.00 C129.47,146.47 131.47,145.57 132.60,144.80 C133.73,144.03 134.50,143.15 135.30,142.40 C136.10,141.65 136.78,140.95 137.40,140.30 C138.02,139.65 138.55,138.92 139.00,138.50 C139.45,138.08 139.73,137.72 140.10,137.80 C140.47,137.88 140.83,138.20 141.20,139.00 C141.57,139.80 141.93,141.07 142.30,142.60 C142.67,144.13 143.03,146.47 143.40,148.20 C143.77,149.93 144.13,151.78 144.50,153.00 C144.87,154.22 145.18,154.97 145.60,155.50 C146.02,156.03 146.27,156.08 147.00,156.20 C147.73,156.32 149.50,156.20 150.00,156.20 L187.4,156.2" fill="none" stroke="#f0603a" stroke-width="1.25" stroke-dasharray="1.4,1.5" />
<line x1="61.0" y1="107.4" x2="61.0" y2="199.0" stroke="#ec4d9e" stroke-width="1.5" stroke-dasharray="1,0.9"/>
<line x1="140.5" y1="107.4" x2="140.5" y2="195.4" stroke="#f5a23c" stroke-width="1.0" stroke-dasharray="1.1,1.2"/>
<line x1="75.7" y1="112.4" x2="84.3" y2="112.4" stroke="#3c3ca6" stroke-width="1.1"/>
<line x1="75.7" y1="121.2" x2="84.3" y2="121.2" stroke="#2a9a4a" stroke-width="1.1" stroke-dasharray="2.2,1.0,0.7,1.0"/>
<line x1="75.7" y1="130.0" x2="84.3" y2="130.0" stroke="#f0603a" stroke-width="1.1" stroke-dasharray="1.2,1.6"/>
<text class="serif" x="84.6" y="114.3" font-size="7.6" fill="#505050">P</text>
<text class="serif" x="89.31" y="116.12" font-size="4.8" fill="#505050">b</text>
<text class="serif" x="84.6" y="123.1" font-size="7.6" fill="#505050">P</text>
<text class="serif" x="89.31" y="119.30" font-size="4.8" fill="#505050">pre-BP</text>
<text class="serif" x="89.31" y="124.92" font-size="4.8" fill="#505050">b</text>
<text class="serif" x="84.6" y="131.9" font-size="7.6" fill="#505050">P</text>
<text class="serif" x="89.31" y="128.10" font-size="4.8" fill="#505050">BP</text>
<text class="serif" x="89.31" y="133.72" font-size="4.8" fill="#505050">b</text>
<line x1="107.2" y1="121.0" x2="115.8" y2="121.0" stroke="#f5a23c" stroke-width="1.1" stroke-dasharray="1.2,1.1"/>
<line x1="107.2" y1="129.6" x2="115.8" y2="129.6" stroke="#ec4d9e" stroke-width="1.1" stroke-dasharray="1.2,0.9"/>
<text class="serif" x="117.2" y="123.2" font-size="7.6" fill="#505050">l</text>
<text class="serif" x="119.63" y="119.40" font-size="4.8" fill="#505050">det</text>
<text class="serif" x="119.63" y="125.02" font-size="4.8" fill="#505050">BP</text>
<text class="serif" x="124.4" y="123.8" font-size="8.74" fill="#505050">/c</text>
<text class="serif" x="117.2" y="131.0" font-size="7.6" fill="#505050">s</text>
<text class="serif" x="120.39" y="127.20" font-size="4.8" fill="#505050">det</text>
<text class="serif" x="120.39" y="132.82" font-size="4.8" fill="#505050">beam</text>
<text class="serif" x="127.6" y="131.6" font-size="8.74" fill="#505050">/c</text>
<rect x="145.2" y="111.5" width="40.30" height="37.80" fill="none" stroke="#6c6c6c" stroke-width="1.4" stroke-linejoin="round"/>
<line x1="155.0" y1="149.3" x2="155.0" y2="146.3" stroke="#404040" stroke-width="0.9"/>
<line x1="155.0" y1="111.5" x2="155.0" y2="114.5" stroke="#404040" stroke-width="0.9"/>
<line x1="170.0" y1="149.3" x2="170.0" y2="146.3" stroke="#404040" stroke-width="0.9"/>
<line x1="170.0" y1="111.5" x2="170.0" y2="114.5" stroke="#404040" stroke-width="0.9"/>
<text x="154.9" y="154.96" font-size="6.3" text-anchor="middle" fill="#3a3a3a" >15</text>
<text x="169.8" y="154.96" font-size="6.3" text-anchor="middle" fill="#3a3a3a" >20</text>
<line x1="160.6" y1="112.2" x2="160.6" y2="148.8" stroke="#ec4d9e" stroke-width="1.3" stroke-dasharray="1,0.9"/>
<path d="M158.00,149.30 C158.27,148.08 159.02,144.88 159.60,142.00 C160.18,139.12 160.85,135.17 161.50,132.00 C162.15,128.83 162.88,125.30 163.50,123.00 C164.12,120.70 164.73,119.17 165.20,118.20 C165.67,117.23 165.90,117.27 166.30,117.20 C166.70,117.13 167.07,117.17 167.60,117.80 C168.13,118.43 168.77,119.22 169.50,121.00 C170.23,122.78 171.17,125.67 172.00,128.50 C172.83,131.33 173.73,134.53 174.50,138.00 C175.27,141.47 176.25,147.42 176.60,149.30" fill="none" stroke="#3c3ca6" stroke-width="1.1" />
<path d="M201.70,154.80 C205.00,154.80 217.87,155.02 221.50,154.80 C225.13,154.58 222.92,154.30 223.50,153.50 C224.08,152.70 224.50,151.92 225.00,150.00 C225.50,148.08 226.00,145.67 226.50,142.00 C227.00,138.33 227.53,132.33 228.00,128.00 C228.47,123.67 228.92,118.97 229.30,116.00 C229.68,113.03 229.98,111.37 230.30,110.20 C230.62,109.03 230.87,109.10 231.20,109.00 C231.53,108.90 231.90,109.10 232.30,109.60 C232.70,110.10 233.12,110.68 233.60,112.00 C234.08,113.32 234.67,115.50 235.20,117.50 C235.73,119.50 236.27,121.95 236.80,124.00 C237.33,126.05 237.87,128.07 238.40,129.80 C238.93,131.53 239.50,133.10 240.00,134.40 C240.50,135.70 240.90,136.68 241.40,137.60 C241.90,138.52 242.32,139.23 243.00,139.90 C243.68,140.57 244.40,141.05 245.50,141.60 C246.60,142.15 248.02,142.60 249.60,143.20 C251.18,143.80 252.73,144.50 255.00,145.20 C257.27,145.90 260.70,146.82 263.20,147.40 C265.70,147.98 267.72,148.32 270.00,148.70 C272.28,149.08 273.48,149.28 276.90,149.70 C280.32,150.12 285.82,150.78 290.50,151.20 C295.18,151.62 300.47,151.95 305.00,152.20 C309.53,152.45 313.40,152.53 317.70,152.70 C322.00,152.87 328.62,153.12 330.80,153.20 L331.8,154.8 L362,154.8" fill="none" stroke="#3c3ca6" stroke-width="1.1" />
<path d="M233.50,154.80 C233.80,154.63 234.72,154.68 235.30,153.80 C235.88,152.92 236.42,151.13 237.00,149.50 C237.58,147.87 238.27,145.52 238.80,144.00 C239.33,142.48 239.70,141.30 240.20,140.40 C240.70,139.50 241.27,138.67 241.80,138.60 C242.33,138.53 242.78,139.50 243.40,140.00 C244.02,140.50 244.47,141.07 245.50,141.60 C246.53,142.13 248.02,142.60 249.60,143.20 C251.18,143.80 252.73,144.50 255.00,145.20 C257.27,145.90 260.70,146.82 263.20,147.40 C265.70,147.98 267.72,148.32 270.00,148.70 C272.28,149.08 273.48,149.28 276.90,149.70 C280.32,150.12 285.82,150.78 290.50,151.20 C295.18,151.62 300.47,151.95 305.00,152.20 C309.53,152.45 313.40,152.53 317.70,152.70 C322.00,152.87 328.62,153.12 330.80,153.20 L331.8,154.8 L362,154.8" fill="none" stroke="#2a9a4a" stroke-width="1.1" stroke-dasharray="2.6,1.0,0.7,1.0" />
<path d="M201.7,154.8 L233.5,154.8" fill="none" stroke="#2a9a4a" stroke-width="1.1" stroke-dasharray="2.6,1.0,0.7,1.0"/>
<path d="M201.70,154.80 C205.00,154.80 217.87,155.02 221.50,154.80 C225.13,154.58 222.92,154.30 223.50,153.50 C224.08,152.70 224.50,151.92 225.00,150.00 C225.50,148.08 226.00,145.67 226.50,142.00 C227.00,138.33 227.53,132.33 228.00,128.00 C228.47,123.67 228.92,118.97 229.30,116.00 C229.68,113.03 229.98,111.37 230.30,110.20 C230.62,109.03 230.87,109.10 231.20,109.00 C231.53,108.90 231.90,109.10 232.30,109.60 C232.70,110.10 233.12,110.68 233.60,112.00 C234.08,113.32 234.67,115.50 235.20,117.50 C235.73,119.50 236.27,121.75 236.80,124.00 C237.33,126.25 237.90,128.50 238.40,131.00 C238.90,133.50 239.33,136.33 239.80,139.00 C240.27,141.67 240.73,144.67 241.20,147.00 C241.67,149.33 242.13,151.70 242.60,153.00 C243.07,154.30 243.43,154.50 244.00,154.80 C244.57,155.10 245.67,154.80 246.00,154.80 L362,154.8" fill="none" stroke="#f0603a" stroke-width="1.25" stroke-dasharray="1.4,1.5" />
<line x1="220.0" y1="107.8" x2="220.0" y2="154.5" stroke="#ec4d9e" stroke-width="1.5" stroke-dasharray="1,0.9"/>
<line x1="229.9" y1="112.5" x2="229.9" y2="154.5" stroke="#f5a23c" stroke-width="1.0" stroke-dasharray="1.1,1.2"/>
<rect x="321.0" y="108.8" width="39.40" height="36.40" fill="none" stroke="#6c6c6c" stroke-width="1.4" stroke-linejoin="round"/>
<line x1="325.0" y1="145.2" x2="325.0" y2="142.2" stroke="#404040" stroke-width="0.9"/>
<line x1="325.0" y1="108.8" x2="325.0" y2="111.8" stroke="#404040" stroke-width="0.9"/>
<line x1="348.8" y1="145.2" x2="348.8" y2="142.2" stroke="#404040" stroke-width="0.9"/>
<line x1="348.8" y1="108.8" x2="348.8" y2="111.8" stroke="#404040" stroke-width="0.9"/>
<text x="325.2" y="151.66" font-size="6.3" text-anchor="middle" fill="#3a3a3a" >20</text>
<text x="349.0" y="151.66" font-size="6.3" text-anchor="middle" fill="#3a3a3a" >30</text>
<line x1="340.0" y1="109.5" x2="340.0" y2="144.8" stroke="#f5a23c" stroke-width="1.0" stroke-dasharray="1.1,1.2"/>
<path d="M338.10,145.20 C338.28,143.67 338.80,139.37 339.20,136.00 C339.60,132.63 340.08,127.83 340.50,125.00 C340.92,122.17 341.33,120.30 341.70,119.00 C342.07,117.70 342.35,117.37 342.70,117.20 C343.05,117.03 343.38,117.03 343.80,118.00 C344.22,118.97 344.73,120.83 345.20,123.00 C345.67,125.17 346.17,128.33 346.60,131.00 C347.03,133.67 347.43,136.63 347.80,139.00 C348.17,141.37 348.63,144.17 348.80,145.20" fill="none" stroke="#3c3ca6" stroke-width="1.1" />
<path d="M24.90,198.50 C28.75,198.50 43.82,198.55 48.00,198.50 C52.18,198.45 49.33,198.45 50.00,198.20 C50.67,197.95 51.33,197.62 52.00,197.00 C52.67,196.38 53.33,195.67 54.00,194.50 C54.67,193.33 55.38,191.37 56.00,190.00 C56.62,188.63 57.22,187.13 57.70,186.30 C58.18,185.47 58.52,185.02 58.90,185.00 C59.28,184.98 59.60,185.37 60.00,186.20 C60.40,187.03 60.88,188.45 61.30,190.00 C61.72,191.55 62.13,193.92 62.50,195.50 C62.87,197.08 63.12,198.17 63.50,199.50 C63.88,200.83 64.35,202.53 64.80,203.50 C65.25,204.47 65.77,204.95 66.20,205.30 C66.63,205.65 66.93,205.68 67.40,205.60 C67.87,205.52 68.40,205.23 69.00,204.80 C69.60,204.37 70.17,203.55 71.00,203.00 C71.83,202.45 72.67,201.93 74.00,201.50 C75.33,201.07 77.33,200.62 79.00,200.40 C80.67,200.18 82.50,200.20 84.00,200.20 C85.50,200.20 86.83,200.27 88.00,200.40 C89.17,200.53 90.10,200.83 91.00,201.00 C91.90,201.17 92.65,201.43 93.40,201.40 C94.15,201.37 94.73,201.10 95.50,200.80 C96.27,200.50 97.08,199.93 98.00,199.60 C98.92,199.27 99.83,198.98 101.00,198.80 C102.17,198.62 103.50,198.55 105.00,198.50 C106.50,198.45 109.17,198.50 110.00,198.50 L120,198.5 L128,198.5 L128.00,198.50 C128.55,198.50 130.30,198.68 131.30,198.50 C132.30,198.32 133.22,197.82 134.00,197.40 C134.78,196.98 135.35,196.33 136.00,196.00 C136.65,195.67 137.37,195.32 137.90,195.40 C138.43,195.48 138.80,195.90 139.20,196.50 C139.60,197.10 139.90,197.83 140.30,199.00 C140.70,200.17 141.13,202.28 141.60,203.50 C142.07,204.72 142.60,206.05 143.10,206.30 C143.60,206.55 144.08,205.88 144.60,205.00 C145.12,204.12 145.68,202.03 146.20,201.00 C146.72,199.97 147.15,199.22 147.70,198.80 C148.25,198.38 148.78,198.55 149.50,198.50 C150.22,198.45 151.58,198.50 152.00,198.50 L187.4,198.5" fill="none" stroke="#3c3ca6" stroke-width="1.1" />
<path d="M24.90,198.50 C28.75,198.50 43.82,198.55 48.00,198.50 C52.18,198.45 49.33,198.45 50.00,198.20 C50.67,197.95 51.33,197.62 52.00,197.00 C52.67,196.38 53.33,195.67 54.00,194.50 C54.67,193.33 55.38,191.37 56.00,190.00 C56.62,188.63 57.22,187.13 57.70,186.30 C58.18,185.47 58.52,185.02 58.90,185.00 C59.28,184.98 59.60,185.37 60.00,186.20 C60.40,187.03 60.88,188.45 61.30,190.00 C61.72,191.55 62.13,193.92 62.50,195.50 C62.87,197.08 63.12,198.17 63.50,199.50 C63.88,200.83 64.35,202.53 64.80,203.50 C65.25,204.47 65.77,204.95 66.20,205.30 C66.63,205.65 66.93,205.68 67.40,205.60 C67.87,205.52 68.40,205.23 69.00,204.80 C69.60,204.37 70.17,203.55 71.00,203.00 C71.83,202.45 72.67,201.93 74.00,201.50 C75.33,201.07 77.33,200.62 79.00,200.40 C80.67,200.18 82.50,200.20 84.00,200.20 C85.50,200.20 86.83,200.27 88.00,200.40 C89.17,200.53 90.10,200.83 91.00,201.00 C91.90,201.17 92.65,201.43 93.40,201.40 C94.15,201.37 94.73,201.10 95.50,200.80 C96.27,200.50 97.08,199.93 98.00,199.60 C98.92,199.27 99.83,198.98 101.00,198.80 C102.17,198.62 103.50,198.55 105.00,198.50 C106.50,198.45 109.17,198.50 110.00,198.50 L122.6,198.5 L122.60,198.50 C122.83,198.85 123.50,199.95 124.00,200.60 C124.50,201.25 125.07,202.40 125.60,202.40 C126.13,202.40 126.70,201.25 127.20,200.60 C127.70,199.95 128.37,198.85 128.60,198.50 L187.4,198.5" fill="none" stroke="#2a9a4a" stroke-width="1.1" stroke-dasharray="2.6,1.0,0.7,1.0" />
<path d="M35.3,198.5 L122.6,198.5 L122.60,198.50 C122.83,198.15 123.50,197.02 124.00,196.40 C124.50,195.78 125.07,194.80 125.60,194.80 C126.13,194.80 126.70,195.78 127.20,196.40 C127.70,197.02 128.37,198.15 128.60,198.50 L131.3,198.5 L131.30,198.50 C131.75,198.32 133.22,197.82 134.00,197.40 C134.78,196.98 135.35,196.33 136.00,196.00 C136.65,195.67 137.37,195.32 137.90,195.40 C138.43,195.48 138.80,195.90 139.20,196.50 C139.60,197.10 139.90,197.83 140.30,199.00 C140.70,200.17 141.13,202.28 141.60,203.50 C142.07,204.72 142.60,206.05 143.10,206.30 C143.60,206.55 144.08,205.88 144.60,205.00 C145.12,204.12 145.68,202.03 146.20,201.00 C146.72,199.97 147.15,199.22 147.70,198.80 C148.25,198.38 148.78,198.55 149.50,198.50 C150.22,198.45 151.58,198.50 152.00,198.50 L187.4,198.5" fill="none" stroke="#f0603a" stroke-width="1.25" stroke-dasharray="1.4,1.5" />
<path d="M31.80,198.49 C31.84,198.48 31.96,198.48 32.03,198.47 C32.11,198.46 32.19,198.45 32.27,198.42 C32.34,198.40 32.42,198.38 32.50,198.34 C32.58,198.30 32.66,198.25 32.73,198.18 C32.81,198.10 32.89,198.02 32.97,197.89 C33.04,197.77 33.12,197.62 33.20,197.42 C33.28,197.22 33.36,196.99 33.43,196.70 C33.51,196.41 33.59,196.07 33.67,195.67 C33.74,195.27 33.82,194.81 33.90,194.31 C33.98,193.81 34.06,193.24 34.13,192.67 C34.21,192.09 34.29,191.45 34.37,190.85 C34.44,190.24 34.52,189.60 34.60,189.05 C34.68,188.49 34.76,187.94 34.83,187.51 C34.91,187.08 34.99,186.70 35.07,186.47 C35.14,186.23 35.22,186.10 35.30,186.10 C35.38,186.10 35.46,186.23 35.53,186.47 C35.61,186.70 35.69,187.08 35.77,187.51 C35.84,187.94 35.92,188.49 36.00,189.05 C36.08,189.60 36.16,190.24 36.23,190.85 C36.31,191.45 36.39,192.09 36.47,192.67 C36.54,193.24 36.62,193.81 36.70,194.31 C36.78,194.81 36.86,195.27 36.93,195.67 C37.01,196.07 37.09,196.41 37.17,196.70 C37.24,196.99 37.32,197.22 37.40,197.42 C37.48,197.62 37.56,197.77 37.63,197.89 C37.71,198.02 37.79,198.10 37.87,198.18 C37.94,198.25 38.02,198.30 38.10,198.34 C38.18,198.38 38.26,198.40 38.33,198.42 C38.41,198.45 38.49,198.46 38.57,198.47 C38.64,198.48 38.76,198.48 38.80,198.49" fill="none" stroke="#505050" stroke-width="1.0" />
<line x1="35.0" y1="201.5" x2="60.8" y2="201.5" stroke="#111" stroke-width="0.8"/>
<path d="M63.4,201.5 L59.8,200.2 L59.8,202.8 Z" fill="#111"/>
<text class="serif" x="38.3" y="206.0" font-size="6.6" fill="#555">t</text>
<text x="40.6" y="207.4" font-size="4.1" fill="#777" textLength="18.6" lengthAdjust="spacingAndGlyphs">zero-crossing</text>
<text class="serif" x="63.6" y="189.2" font-size="7.6" fill="#444">α</text>
<text class="serif" x="143.6" y="189.2" font-size="6.8" fill="#555">γ</text>
<path d="M202.6,199.9 L262.00,199.90 C265.00,199.90 276.55,200.02 280.00,199.90 C283.45,199.78 281.87,199.62 282.70,199.20 C283.53,198.78 284.20,198.27 285.00,197.40 C285.80,196.53 286.67,195.03 287.50,194.00 C288.33,192.97 289.27,191.82 290.00,191.20 C290.73,190.58 291.32,190.37 291.90,190.30 C292.48,190.23 292.90,190.32 293.50,190.80 C294.10,191.28 294.83,192.23 295.50,193.20 C296.17,194.17 296.82,195.48 297.50,196.60 C298.18,197.72 298.93,199.07 299.60,199.90 C300.27,200.73 300.85,201.12 301.50,201.60 C302.15,202.08 302.80,202.55 303.50,202.80 C304.20,203.05 304.95,203.13 305.70,203.10 C306.45,203.07 307.12,202.88 308.00,202.60 C308.88,202.32 309.83,201.78 311.00,201.40 C312.17,201.02 313.50,200.57 315.00,200.30 C316.50,200.03 318.67,199.87 320.00,199.80 C321.33,199.73 322.50,199.88 323.00,199.90 L362,199.9" fill="none" stroke="#3c3ca6" stroke-width="1.1" />
<path d="M202.6,199.9 L302,199.9 L302.00,199.90 C302.42,199.85 303.70,199.82 304.50,199.60 C305.30,199.38 306.08,199.03 306.80,198.60 C307.52,198.17 308.17,197.43 308.80,197.00 C309.43,196.57 310.00,196.12 310.60,196.00 C311.20,195.88 311.77,196.00 312.40,196.30 C313.03,196.60 313.73,197.30 314.40,197.80 C315.07,198.30 315.72,198.95 316.40,199.30 C317.08,199.65 317.73,199.80 318.50,199.90 C319.27,200.00 320.58,199.90 321.00,199.90 L362,199.9" fill="none" stroke="#2a9a4a" stroke-width="1.1" stroke-dasharray="2.6,1.0,0.7,1.0" />
<path d="M202.6,199.9 L262.00,199.90 C265.00,199.90 276.55,200.02 280.00,199.90 C283.45,199.78 281.87,199.62 282.70,199.20 C283.53,198.78 284.20,198.27 285.00,197.40 C285.80,196.53 286.67,195.03 287.50,194.00 C288.33,192.97 289.27,191.82 290.00,191.20 C290.73,190.58 291.32,190.37 291.90,190.30 C292.48,190.23 292.90,190.32 293.50,190.80 C294.10,191.28 294.83,192.23 295.50,193.20 C296.17,194.17 296.82,195.48 297.50,196.60 C298.18,197.72 298.85,199.00 299.60,199.90 C300.35,200.80 301.10,201.33 302.00,202.00 C302.90,202.67 304.08,203.40 305.00,203.90 C305.92,204.40 306.73,204.78 307.50,205.00 C308.27,205.22 308.85,205.32 309.60,205.20 C310.35,205.08 311.10,204.80 312.00,204.30 C312.90,203.80 313.92,202.85 315.00,202.20 C316.08,201.55 317.17,200.78 318.50,200.40 C319.83,200.02 322.25,199.98 323.00,199.90 L362,199.9" fill="none" stroke="#f0603a" stroke-width="1.25" stroke-dasharray="1.4,1.5" />
<path d="M240.80,199.89 C240.84,199.89 240.96,199.89 241.04,199.88 C241.12,199.88 241.20,199.87 241.28,199.86 C241.36,199.84 241.44,199.83 241.52,199.81 C241.60,199.78 241.68,199.75 241.76,199.70 C241.84,199.65 241.92,199.60 242.00,199.51 C242.08,199.43 242.16,199.33 242.24,199.19 C242.32,199.05 242.40,198.89 242.48,198.68 C242.56,198.47 242.64,198.23 242.72,197.93 C242.80,197.64 242.88,197.30 242.96,196.92 C243.04,196.54 243.12,196.11 243.20,195.67 C243.28,195.22 243.36,194.73 243.44,194.26 C243.52,193.79 243.60,193.29 243.68,192.85 C243.76,192.41 243.84,191.97 243.92,191.63 C244.00,191.28 244.08,190.98 244.16,190.80 C244.24,190.61 244.32,190.50 244.40,190.50 C244.48,190.50 244.56,190.61 244.64,190.80 C244.72,190.98 244.80,191.28 244.88,191.63 C244.96,191.97 245.04,192.41 245.12,192.85 C245.20,193.29 245.28,193.79 245.36,194.26 C245.44,194.73 245.52,195.22 245.60,195.67 C245.68,196.11 245.76,196.54 245.84,196.92 C245.92,197.30 246.00,197.64 246.08,197.93 C246.16,198.23 246.24,198.47 246.32,198.68 C246.40,198.89 246.48,199.05 246.56,199.19 C246.64,199.33 246.72,199.43 246.80,199.51 C246.88,199.60 246.96,199.65 247.04,199.70 C247.12,199.75 247.20,199.78 247.28,199.81 C247.36,199.83 247.44,199.84 247.52,199.86 C247.60,199.87 247.68,199.88 247.76,199.88 C247.84,199.89 247.96,199.89 248.00,199.89" fill="none" stroke="#404040" stroke-width="1.0" />
<line x1="296.6" y1="184.6" x2="296.6" y2="210.0" stroke="#f5a23c" stroke-width="1.0" stroke-dasharray="1.1,1.2"/>
<line x1="244.6" y1="186.0" x2="293.6" y2="186.0" stroke="#111" stroke-width="0.9"/>
<path d="M296.4,186.0 L292.8,184.8 L292.8,187.2 Z" fill="#111"/>
<line x1="296.4" y1="186.0" x2="298.2" y2="186.0" stroke="#bbb" stroke-width="0.8"/>
<line x1="298.2" y1="184.8" x2="298.2" y2="187.2" stroke="#bbb" stroke-width="0.6"/>
<line x1="244.6" y1="188.4" x2="288.0" y2="188.4" stroke="#111" stroke-width="0.9"/>
<path d="M290.8,188.4 L287.2,187.2 L287.2,189.6 Z" fill="#111"/>
<line x1="290.8" y1="188.4" x2="304.4" y2="188.4" stroke="#bbb" stroke-width="0.8"/>
<line x1="304.4" y1="187.2" x2="304.4" y2="189.6" stroke="#bbb" stroke-width="0.6"/>
<line x1="244.6" y1="205.3" x2="300.0" y2="205.3" stroke="#111" stroke-width="0.9"/>
<path d="M302.8,205.3 L299.2,204.1 L299.2,206.5 Z" fill="#111"/>
<text class="serif" x="228.2" y="187.2" font-size="6.6" fill="#555">t</text>
<text x="230.6" y="188.4" font-size="4.2" fill="#777" textLength="13" lengthAdjust="spacingAndGlyphs">corner</text>
<text class="serif" x="261.8" y="194.6" font-size="6.6" fill="#555">t</text>
<text x="264.2" y="195.8" font-size="4.2" fill="#777" textLength="7.8" lengthAdjust="spacingAndGlyphs">max</text>
<text class="serif" x="232.0" y="207.6" font-size="6.6" fill="#555">t</text>
<text x="234.6" y="208.6" font-size="4.2" fill="#777" textLength="8.8" lengthAdjust="spacingAndGlyphs">wide</text>
<path d="M25.4,242.5 L40,242.5 L40.00,242.48 C40.17,242.48 40.67,242.48 41.00,242.47 C41.33,242.46 41.67,242.46 42.00,242.45 C42.33,242.44 42.67,242.43 43.00,242.41 C43.33,242.40 43.67,242.38 44.00,242.36 C44.33,242.33 44.67,242.30 45.00,242.27 C45.33,242.23 45.67,242.19 46.00,242.13 C46.33,242.08 46.67,242.02 47.00,241.94 C47.33,241.86 47.67,241.77 48.00,241.66 C48.33,241.55 48.67,241.42 49.00,241.27 C49.33,241.12 49.67,240.95 50.00,240.75 C50.33,240.55 50.67,240.33 51.00,240.07 C51.33,239.81 51.67,239.53 52.00,239.21 C52.33,238.89 52.67,238.54 53.00,238.16 C53.33,237.78 53.67,237.36 54.00,236.92 C54.33,236.47 54.67,235.99 55.00,235.50 C55.33,235.00 55.67,234.47 56.00,233.93 C56.33,233.40 56.67,232.83 57.00,232.28 C57.33,231.73 57.67,231.16 58.00,230.61 C58.33,230.07 58.67,229.52 59.00,229.02 C59.33,228.51 59.67,228.02 60.00,227.59 C60.33,227.15 60.67,226.75 61.00,226.42 C61.33,226.08 61.67,225.80 62.00,225.59 C62.33,225.38 62.67,225.23 63.00,225.15 C63.33,225.08 63.67,225.08 64.00,225.15 C64.33,225.23 64.67,225.38 65.00,225.59 C65.33,225.80 65.67,226.08 66.00,226.42 C66.33,226.75 66.67,227.15 67.00,227.59 C67.33,228.02 67.67,228.51 68.00,229.02 C68.33,229.52 68.67,230.07 69.00,230.61 C69.33,231.16 69.67,231.73 70.00,232.28 C70.33,232.83 70.67,233.40 71.00,233.93 C71.33,234.47 71.67,235.00 72.00,235.50 C72.33,235.99 72.67,236.47 73.00,236.92 C73.33,237.36 73.67,237.78 74.00,238.16 C74.33,238.54 74.67,238.89 75.00,239.21 C75.33,239.53 75.67,239.81 76.00,240.07 C76.33,240.33 76.67,240.55 77.00,240.75 C77.33,240.95 77.67,241.12 78.00,241.27 C78.33,241.42 78.67,241.55 79.00,241.66 C79.33,241.77 79.67,241.86 80.00,241.94 C80.33,242.02 80.67,242.08 81.00,242.13 C81.33,242.19 81.67,242.23 82.00,242.27 C82.33,242.30 82.67,242.33 83.00,242.36 C83.33,242.38 83.67,242.40 84.00,242.41 C84.33,242.43 84.67,242.44 85.00,242.45 C85.33,242.46 85.67,242.46 86.00,242.47 C86.33,242.48 86.67,242.48 87.00,242.48 C87.33,242.49 87.83,242.49 88.00,242.49 L110,242.5" fill="none" stroke="#404040" stroke-width="1.0" />
<path d="M25.40,242.50 C31.17,242.50 53.65,242.57 60.00,242.50 C66.35,242.43 62.42,242.42 63.50,242.10 C64.58,241.78 65.50,241.45 66.50,240.60 C67.50,239.75 68.50,238.52 69.50,237.00 C70.50,235.48 71.50,233.20 72.50,231.50 C73.50,229.80 74.52,227.90 75.50,226.80 C76.48,225.70 77.57,225.07 78.40,224.90 C79.23,224.73 79.78,225.03 80.50,225.80 C81.22,226.57 82.03,227.88 82.70,229.50 C83.37,231.12 83.88,233.42 84.50,235.50 C85.12,237.58 85.73,240.00 86.40,242.00 C87.07,244.00 87.73,246.10 88.50,247.50 C89.27,248.90 89.93,249.72 91.00,250.40 C92.07,251.08 93.57,251.62 94.90,251.60 C96.23,251.58 97.73,250.80 99.00,250.30 C100.27,249.80 101.37,249.15 102.50,248.60 C103.63,248.05 104.55,247.60 105.80,247.00 C107.05,246.40 108.72,245.57 110.00,245.00 C111.28,244.43 112.38,244.00 113.50,243.60 C114.62,243.20 115.62,242.90 116.70,242.60 C117.78,242.30 118.78,242.08 120.00,241.80 C121.22,241.52 122.75,241.13 124.00,240.90 C125.25,240.67 126.35,240.47 127.50,240.40 C128.65,240.33 129.90,240.30 130.90,240.50 C131.90,240.70 132.57,241.02 133.50,241.60 C134.43,242.18 135.50,243.13 136.50,244.00 C137.50,244.87 138.50,246.10 139.50,246.80 C140.50,247.50 141.58,247.95 142.50,248.20 C143.42,248.45 144.00,248.53 145.00,248.30 C146.00,248.07 147.33,247.48 148.50,246.80 C149.67,246.12 150.77,244.92 152.00,244.20 C153.23,243.48 154.73,242.78 155.90,242.50 C157.07,242.22 157.98,242.50 159.00,242.50 C160.02,242.50 161.50,242.50 162.00,242.50 L187.4,242.5" fill="none" stroke="#3c3ca6" stroke-width="1.1" />
<path d="M25.40,242.50 C31.17,242.50 53.65,242.57 60.00,242.50 C66.35,242.43 62.42,242.42 63.50,242.10 C64.58,241.78 65.50,241.45 66.50,240.60 C67.50,239.75 68.50,238.52 69.50,237.00 C70.50,235.48 71.50,233.20 72.50,231.50 C73.50,229.80 74.52,227.90 75.50,226.80 C76.48,225.70 77.57,225.07 78.40,224.90 C79.23,224.73 79.78,225.03 80.50,225.80 C81.22,226.57 82.03,227.88 82.70,229.50 C83.37,231.12 83.88,233.42 84.50,235.50 C85.12,237.58 85.73,240.00 86.40,242.00 C87.07,244.00 87.73,246.10 88.50,247.50 C89.27,248.90 89.93,249.72 91.00,250.40 C92.07,251.08 93.57,251.62 94.90,251.60 C96.23,251.58 97.73,250.80 99.00,250.30 C100.27,249.80 101.37,249.15 102.50,248.60 C103.63,248.05 104.55,247.60 105.80,247.00 C107.05,246.40 108.72,245.57 110.00,245.00 C111.28,244.43 112.38,244.00 113.50,243.60 C114.62,243.20 116.17,242.77 116.70,242.60 C117.23,242.43 116.15,242.48 116.70,242.60 C117.25,242.72 118.78,242.97 120.00,243.30 C121.22,243.63 122.83,244.22 124.00,244.60 C125.17,244.98 126.03,245.37 127.00,245.60 C127.97,245.83 128.80,246.02 129.80,246.00 C130.80,245.98 131.88,245.80 133.00,245.50 C134.12,245.20 135.50,244.62 136.50,244.20 C137.50,243.78 138.30,243.28 139.00,243.00 C139.70,242.72 140.03,242.58 140.70,242.50 C141.37,242.42 142.62,242.50 143.00,242.50 L187.4,242.5" fill="none" stroke="#2a9a4a" stroke-width="1.1" stroke-dasharray="2.6,1.0,0.7,1.0" />
<path d="M25.4,242.5 L113.00,242.50 C113.43,242.50 114.68,242.68 115.60,242.50 C116.52,242.32 117.43,241.90 118.50,241.40 C119.57,240.90 120.75,240.10 122.00,239.50 C123.25,238.90 124.70,238.17 126.00,237.80 C127.30,237.43 128.55,237.17 129.80,237.30 C131.05,237.43 132.38,237.88 133.50,238.60 C134.62,239.32 135.50,240.45 136.50,241.60 C137.50,242.75 138.50,244.45 139.50,245.50 C140.50,246.55 141.40,247.38 142.50,247.90 C143.60,248.42 144.93,248.72 146.10,248.60 C147.27,248.48 148.43,247.88 149.50,247.20 C150.57,246.52 151.42,245.27 152.50,244.50 C153.58,243.73 154.92,242.93 156.00,242.60 C157.08,242.27 158.00,242.52 159.00,242.50 C160.00,242.48 161.50,242.50 162.00,242.50 L187.4,242.5" fill="none" stroke="#f0603a" stroke-width="1.25" stroke-dasharray="1.4,1.5" />
<line x1="82.5" y1="223.8" x2="82.5" y2="251.8" stroke="#ec4d9e" stroke-width="1.4" stroke-dasharray="1,0.9"/>
<line x1="141.1" y1="225.0" x2="141.1" y2="251.8" stroke="#f5a23c" stroke-width="1.0" stroke-dasharray="1.1,1.2"/>
<text class="serif" x="88.0" y="232.4" font-size="7.6" fill="#444">α</text>
<text class="serif" x="136.4" y="231.8" font-size="6.8" fill="#555">γ</text>
<path d="M202.2,238.9 L222,238.9 L222.00,238.89 C222.19,238.89 222.78,238.88 223.17,238.88 C223.56,238.87 223.94,238.87 224.33,238.86 C224.72,238.86 225.11,238.85 225.50,238.84 C225.89,238.82 226.28,238.81 226.67,238.79 C227.06,238.78 227.44,238.76 227.83,238.73 C228.22,238.70 228.61,238.67 229.00,238.63 C229.39,238.59 229.78,238.54 230.17,238.49 C230.56,238.43 230.94,238.36 231.33,238.28 C231.72,238.20 232.11,238.10 232.50,237.99 C232.89,237.88 233.28,237.75 233.67,237.60 C234.06,237.45 234.44,237.28 234.83,237.09 C235.22,236.90 235.61,236.68 236.00,236.44 C236.39,236.20 236.78,235.93 237.17,235.64 C237.56,235.35 237.94,235.03 238.33,234.69 C238.72,234.34 239.11,233.97 239.50,233.59 C239.89,233.20 240.28,232.78 240.67,232.36 C241.06,231.94 241.44,231.50 241.83,231.06 C242.22,230.62 242.61,230.16 243.00,229.72 C243.39,229.28 243.78,228.84 244.17,228.42 C244.56,228.01 244.94,227.60 245.33,227.23 C245.72,226.87 246.11,226.52 246.50,226.23 C246.89,225.93 247.28,225.67 247.67,225.47 C248.06,225.27 248.44,225.11 248.83,225.02 C249.22,224.92 249.61,224.89 250.00,224.91 C250.39,224.92 250.78,225.00 251.17,225.14 C251.56,225.27 251.94,225.46 252.33,225.70 C252.72,225.93 253.11,226.22 253.50,226.55 C253.89,226.87 254.28,227.24 254.67,227.62 C255.06,228.01 255.44,228.43 255.83,228.86 C256.22,229.28 256.61,229.74 257.00,230.18 C257.39,230.62 257.78,231.08 258.17,231.51 C258.56,231.95 258.94,232.38 259.33,232.79 C259.72,233.21 260.11,233.61 260.50,233.98 C260.89,234.35 261.28,234.70 261.67,235.03 C262.06,235.36 262.44,235.66 262.83,235.93 C263.22,236.21 263.61,236.45 264.00,236.68 C264.39,236.90 264.78,237.10 265.17,237.28 C265.56,237.46 265.94,237.61 266.33,237.75 C266.72,237.88 267.11,238.00 267.50,238.10 C267.89,238.20 268.28,238.28 268.67,238.36 C269.06,238.43 269.44,238.49 269.83,238.54 C270.22,238.59 270.61,238.63 271.00,238.67 C271.39,238.70 271.78,238.73 272.17,238.75 C272.56,238.78 272.94,238.80 273.33,238.81 C273.72,238.83 274.11,238.84 274.50,238.85 C274.89,238.86 275.28,238.86 275.67,238.87 C276.06,238.87 276.44,238.88 276.83,238.88 C277.22,238.89 277.81,238.89 278.00,238.89 L362.4,238.9" fill="none" stroke="#666" stroke-width="1.0" />
<path d="M202.20,238.90 C210.67,238.90 244.03,238.95 253.00,238.90 C261.97,238.85 254.90,238.85 256.00,238.60 C257.10,238.35 258.60,237.78 259.60,237.40 C260.60,237.02 261.18,236.77 262.00,236.30 C262.82,235.83 263.67,235.28 264.50,234.60 C265.33,233.92 266.18,233.03 267.00,232.20 C267.82,231.37 268.57,230.43 269.40,229.60 C270.23,228.77 271.18,227.87 272.00,227.20 C272.82,226.53 273.50,226.02 274.30,225.60 C275.10,225.18 275.98,224.90 276.80,224.70 C277.62,224.50 278.47,224.32 279.20,224.40 C279.93,224.48 280.58,224.80 281.20,225.20 C281.82,225.60 282.38,226.20 282.90,226.80 C283.42,227.40 283.85,228.03 284.30,228.80 C284.75,229.57 285.18,230.40 285.60,231.40 C286.02,232.40 286.43,233.63 286.80,234.80 C287.17,235.97 287.33,237.30 287.80,238.40 C288.27,239.50 288.98,240.57 289.60,241.40 C290.22,242.23 290.88,242.80 291.50,243.40 C292.12,244.00 292.70,244.53 293.30,245.00 C293.90,245.47 294.48,245.90 295.10,246.20 C295.72,246.50 296.38,246.68 297.00,246.80 C297.62,246.92 298.13,247.00 298.80,246.90 C299.47,246.80 300.18,246.57 301.00,246.20 C301.82,245.83 302.87,245.17 303.70,244.70 C304.53,244.23 305.18,243.78 306.00,243.40 C306.82,243.02 307.77,242.72 308.60,242.40 C309.43,242.08 310.17,241.77 311.00,241.50 C311.83,241.23 312.60,241.03 313.60,240.80 C314.60,240.57 315.78,240.30 317.00,240.10 C318.22,239.90 319.40,239.75 320.90,239.60 C322.40,239.45 324.15,239.32 326.00,239.20 C327.85,239.08 331.00,238.95 332.00,238.90 L362.4,238.9" fill="none" stroke="#3c3ca6" stroke-width="1.1" />
<path d="M202.2,238.9 L268.00,238.90 C268.67,238.87 270.75,238.82 272.00,238.70 C273.25,238.58 274.30,238.40 275.50,238.20 C276.70,238.00 277.95,237.77 279.20,237.50 C280.45,237.23 281.70,236.93 283.00,236.60 C284.30,236.27 285.67,235.87 287.00,235.50 C288.33,235.13 289.83,234.70 291.00,234.40 C292.17,234.10 293.10,233.85 294.00,233.70 C294.90,233.55 295.57,233.48 296.40,233.50 C297.23,233.52 298.15,233.63 299.00,233.80 C299.85,233.97 300.72,234.25 301.50,234.50 C302.28,234.75 302.78,234.98 303.70,235.30 C304.62,235.62 305.77,236.02 307.00,236.40 C308.23,236.78 309.85,237.28 311.10,237.60 C312.35,237.92 313.28,238.12 314.50,238.30 C315.72,238.48 317.15,238.60 318.40,238.70 C319.65,238.80 320.90,238.87 322.00,238.90 C323.10,238.93 324.50,238.90 325.00,238.90 L362.4,238.9" fill="none" stroke="#2a9a4a" stroke-width="1.1" stroke-dasharray="2.6,1.0,0.7,1.0" />
<path d="M202.20,238.90 C210.67,238.90 244.03,238.95 253.00,238.90 C261.97,238.85 254.90,238.85 256.00,238.60 C257.10,238.35 258.60,237.78 259.60,237.40 C260.60,237.02 261.18,236.77 262.00,236.30 C262.82,235.83 263.67,235.28 264.50,234.60 C265.33,233.92 266.18,233.03 267.00,232.20 C267.82,231.37 268.57,230.43 269.40,229.60 C270.23,228.77 271.18,227.87 272.00,227.20 C272.82,226.53 273.50,226.02 274.30,225.60 C275.10,225.18 275.98,224.90 276.80,224.70 C277.62,224.50 278.47,224.32 279.20,224.40 C279.93,224.48 280.58,224.80 281.20,225.20 C281.82,225.60 282.38,226.20 282.90,226.80 C283.42,227.40 283.85,228.03 284.30,228.80 C284.75,229.57 285.18,230.40 285.60,231.40 C286.02,232.40 286.43,233.63 286.80,234.80 C287.17,235.97 287.33,237.10 287.80,238.40 C288.27,239.70 289.03,241.37 289.60,242.60 C290.17,243.83 290.68,244.87 291.20,245.80 C291.72,246.73 292.15,247.47 292.70,248.20 C293.25,248.93 293.95,249.68 294.50,250.20 C295.05,250.72 295.48,251.03 296.00,251.30 C296.52,251.57 297.02,251.75 297.60,251.80 C298.18,251.85 298.88,251.78 299.50,251.60 C300.12,251.42 300.60,251.20 301.30,250.70 C302.00,250.20 302.88,249.40 303.70,248.60 C304.52,247.80 305.38,246.70 306.20,245.90 C307.02,245.10 307.78,244.43 308.60,243.80 C309.42,243.17 310.12,242.63 311.10,242.10 C312.08,241.57 313.28,241.02 314.50,240.60 C315.72,240.18 316.98,239.85 318.40,239.60 C319.82,239.35 321.07,239.22 323.00,239.10 C324.93,238.98 328.83,238.93 330.00,238.90 L362.4,238.9" fill="none" stroke="#f0603a" stroke-width="1.25" stroke-dasharray="1.4,1.5" />
<line x1="285.0" y1="230.0" x2="285.0" y2="252.0" stroke="#f5a23c" stroke-width="1.0" stroke-dasharray="1.1,1.2"/>
<path d="M25.40,281.00 C26.40,280.93 29.30,280.87 31.40,280.60 C33.50,280.33 35.90,279.93 38.00,279.40 C40.10,278.87 42.00,278.20 44.00,277.40 C46.00,276.60 48.00,275.58 50.00,274.60 C52.00,273.62 54.00,272.50 56.00,271.50 C58.00,270.50 60.17,269.37 62.00,268.60 C63.83,267.83 65.55,267.28 67.00,266.90 C68.45,266.52 69.37,266.32 70.70,266.30 C72.03,266.28 73.62,266.43 75.00,266.80 C76.38,267.17 77.72,267.87 79.00,268.50 C80.28,269.13 81.20,269.75 82.70,270.60 C84.20,271.45 86.18,272.68 88.00,273.60 C89.82,274.52 91.77,275.35 93.60,276.10 C95.43,276.85 97.18,277.57 99.00,278.10 C100.82,278.63 102.67,278.98 104.50,279.30 C106.33,279.62 108.18,279.82 110.00,280.00 C111.82,280.18 113.40,280.27 115.40,280.40 C117.40,280.53 119.57,280.70 122.00,280.80 C124.43,280.90 128.67,280.97 130.00,281.00 L187.4,281.0" fill="none" stroke="#555" stroke-width="1.1" />
<path d="M25.40,281.00 C26.40,280.95 29.30,280.90 31.40,280.70 C33.50,280.50 35.90,280.22 38.00,279.80 C40.10,279.38 42.00,278.93 44.00,278.20 C46.00,277.47 48.00,276.40 50.00,275.40 C52.00,274.40 54.00,273.27 56.00,272.20 C58.00,271.13 60.17,269.87 62.00,269.00 C63.83,268.13 65.55,267.43 67.00,267.00 C68.45,266.57 69.45,266.37 70.70,266.40 C71.95,266.43 73.20,266.72 74.50,267.20 C75.80,267.68 77.13,268.37 78.50,269.30 C79.87,270.23 81.28,271.42 82.70,272.80 C84.12,274.18 85.70,276.23 87.00,277.60 C88.30,278.97 89.40,279.95 90.50,281.00 C91.60,282.05 92.52,282.80 93.60,283.90 C94.68,285.00 95.77,286.45 97.00,287.60 C98.23,288.75 99.57,290.03 101.00,290.80 C102.43,291.57 104.10,292.00 105.60,292.20 C107.10,292.40 108.37,292.27 110.00,292.00 C111.63,291.73 113.40,291.33 115.40,290.60 C117.40,289.87 119.57,288.67 122.00,287.60 C124.43,286.53 127.33,285.08 130.00,284.20 C132.67,283.32 135.33,282.78 138.00,282.30 C140.67,281.82 143.17,281.52 146.00,281.30 C148.83,281.08 153.50,281.05 155.00,281.00 L187.4,281.0" fill="none" stroke="#3c3ca6" stroke-width="1.1" />
<path d="M25.40,281.00 C26.40,280.95 29.30,280.90 31.40,280.70 C33.50,280.50 35.90,280.22 38.00,279.80 C40.10,279.38 42.00,278.90 44.00,278.20 C46.00,277.50 48.00,276.57 50.00,275.60 C52.00,274.63 54.00,273.47 56.00,272.40 C58.00,271.33 60.17,270.07 62.00,269.20 C63.83,268.33 65.55,267.63 67.00,267.20 C68.45,266.77 69.45,266.53 70.70,266.60 C71.95,266.67 73.20,267.03 74.50,267.60 C75.80,268.17 77.13,268.95 78.50,270.00 C79.87,271.05 81.28,272.40 82.70,273.90 C84.12,275.40 85.70,277.52 87.00,279.00 C88.30,280.48 89.40,281.63 90.50,282.80 C91.60,283.97 92.43,284.73 93.60,286.00 C94.77,287.27 96.05,289.25 97.50,290.40 C98.95,291.55 100.72,292.57 102.30,292.90 C103.88,293.23 105.55,292.75 107.00,292.40 C108.45,292.05 109.60,291.37 111.00,290.80 C112.40,290.23 113.57,289.80 115.40,289.00 C117.23,288.20 119.57,287.03 122.00,286.00 C124.43,284.97 127.33,283.58 130.00,282.80 C132.67,282.02 135.33,281.60 138.00,281.30 C140.67,281.00 144.67,281.05 146.00,281.00 L187.4,281.0" fill="none" stroke="#2a9a4a" stroke-width="1.1" stroke-dasharray="2.6,1.0,0.7,1.0" />
<path d="M25.40,281.00 C29.50,280.98 44.23,281.00 50.00,280.90 C55.77,280.80 56.67,280.60 60.00,280.40 C63.33,280.20 67.00,279.92 70.00,279.70 C73.00,279.48 75.67,279.30 78.00,279.10 C80.33,278.90 82.17,278.67 84.00,278.50 C85.83,278.33 87.40,278.20 89.00,278.10 C90.60,278.00 91.93,277.90 93.60,277.90 C95.27,277.90 97.18,277.97 99.00,278.10 C100.82,278.23 102.67,278.42 104.50,278.70 C106.33,278.98 108.18,279.35 110.00,279.80 C111.82,280.25 113.73,280.88 115.40,281.40 C117.07,281.92 118.57,282.53 120.00,282.90 C121.43,283.27 122.67,283.57 124.00,283.60 C125.33,283.63 126.50,283.38 128.00,283.10 C129.50,282.82 131.00,282.25 133.00,281.90 C135.00,281.55 138.83,281.15 140.00,281.00 L187.4,281.0" fill="none" stroke="#f0603a" stroke-width="1.25" stroke-dasharray="1.4,1.5" />
<line x1="80.6" y1="265.6" x2="80.6" y2="294.0" stroke="#ec4d9e" stroke-width="1.5" stroke-dasharray="1,0.9"/>
<line x1="112.6" y1="266.0" x2="112.6" y2="294.0" stroke="#f5a23c" stroke-width="1.0" stroke-dasharray="1.1,1.2"/>
<line x1="118.4" y1="271.3" x2="128.6" y2="271.3" stroke="#777" stroke-width="1.1"/>
<line x1="118.4" y1="275.8" x2="128.6" y2="275.8" stroke="#3c3ca6" stroke-width="1.1"/>
<line x1="158.2" y1="271.3" x2="167.7" y2="271.3" stroke="#f0603a" stroke-width="1.1" stroke-dasharray="1.2,1.6"/>
<line x1="158.2" y1="276.3" x2="167.7" y2="276.3" stroke="#2a9a4a" stroke-width="1.1" stroke-dasharray="2.4,1.0,0.7,1.0"/>
<text x="130.4" y="273.6" font-size="6.6" fill="#444" class="rserif"><tspan font-style="italic">E</tspan>(<tspan font-style="italic">t</tspan>) (a.u.)</text>
<text class="serif" x="130.4" y="277.6" font-size="6.8" fill="#444">p</text>
<text class="serif" x="169.6" y="273.4" font-size="6.2" fill="#444">p</text>
<text class="serif" x="172.8" y="270.9" font-size="4.4" fill="#444">BP</text>
<text class="serif" x="169.6" y="278.6" font-size="6.2" fill="#444">p</text>
<text class="serif" x="172.8" y="276.1" font-size="4.4" fill="#444">pre-BP</text>
<path d="M202.20,282.30 C203.50,282.25 207.35,282.38 210.00,282.00 C212.65,281.62 216.02,280.62 218.10,280.00 C220.18,279.38 221.05,278.95 222.50,278.30 C223.95,277.65 225.38,276.98 226.80,276.10 C228.22,275.22 229.55,274.08 231.00,273.00 C232.45,271.92 234.00,270.52 235.50,269.60 C237.00,268.68 238.37,267.95 240.00,267.50 C241.63,267.05 243.80,266.93 245.30,266.90 C246.80,266.87 247.72,267.03 249.00,267.30 C250.28,267.57 251.67,267.88 253.00,268.50 C254.33,269.12 255.55,269.92 257.00,271.00 C258.45,272.08 260.20,273.83 261.70,275.00 C263.20,276.17 264.55,277.10 266.00,278.00 C267.45,278.90 268.90,279.77 270.40,280.40 C271.90,281.03 273.55,281.43 275.00,281.80 C276.45,282.17 277.60,282.45 279.10,282.60 C280.60,282.75 282.18,282.72 284.00,282.70 C285.82,282.68 288.00,282.57 290.00,282.50 C292.00,282.43 295.00,282.33 296.00,282.30 L362.4,282.3" fill="none" stroke="#555" stroke-width="1.1" />
<path d="M202.20,282.30 C205.50,282.30 217.90,282.42 222.00,282.30 C226.10,282.18 225.30,282.03 226.80,281.60 C228.30,281.17 229.63,280.50 231.00,279.70 C232.37,278.90 233.67,277.92 235.00,276.80 C236.33,275.68 237.67,274.22 239.00,273.00 C240.33,271.78 241.67,270.47 243.00,269.50 C244.33,268.53 245.78,267.70 247.00,267.20 C248.22,266.70 249.22,266.50 250.30,266.50 C251.38,266.50 252.47,266.75 253.50,267.20 C254.53,267.65 255.50,268.30 256.50,269.20 C257.50,270.10 258.50,271.27 259.50,272.60 C260.50,273.93 261.58,275.70 262.50,277.20 C263.42,278.70 264.08,280.10 265.00,281.60 C265.92,283.10 267.00,284.83 268.00,286.20 C269.00,287.57 269.92,288.78 271.00,289.80 C272.08,290.82 273.27,291.70 274.50,292.30 C275.73,292.90 277.15,293.23 278.40,293.40 C279.65,293.57 280.73,293.48 282.00,293.30 C283.27,293.12 284.50,292.75 286.00,292.30 C287.50,291.85 289.27,291.18 291.00,290.60 C292.73,290.02 294.07,289.45 296.40,288.80 C298.73,288.15 301.90,287.33 305.00,286.70 C308.10,286.07 311.83,285.48 315.00,285.00 C318.17,284.52 320.93,284.13 324.00,283.80 C327.07,283.47 330.23,283.22 333.40,283.00 C336.57,282.78 339.90,282.62 343.00,282.50 C346.10,282.38 350.50,282.33 352.00,282.30 L362.4,282.3" fill="none" stroke="#3c3ca6" stroke-width="1.1" />
<path d="M202.20,282.30 C205.50,282.30 217.90,282.35 222.00,282.30 C226.10,282.25 225.13,282.15 226.80,282.00 C228.47,281.85 230.18,281.67 232.00,281.40 C233.82,281.13 235.87,280.72 237.70,280.40 C239.53,280.08 241.18,279.85 243.00,279.50 C244.82,279.15 246.77,278.75 248.60,278.30 C250.43,277.85 252.18,277.25 254.00,276.80 C255.82,276.35 257.67,275.67 259.50,275.60 C261.33,275.53 263.18,275.95 265.00,276.40 C266.82,276.85 268.73,277.63 270.40,278.30 C272.07,278.97 273.55,279.68 275.00,280.40 C276.45,281.12 277.73,281.90 279.10,282.60 C280.47,283.30 281.88,284.13 283.20,284.60 C284.52,285.07 285.70,285.33 287.00,285.40 C288.30,285.47 289.50,285.23 291.00,285.00 C292.50,284.77 294.50,284.30 296.00,284.00 C297.50,283.70 298.50,283.43 300.00,283.20 C301.50,282.97 303.33,282.75 305.00,282.60 C306.67,282.45 309.17,282.35 310.00,282.30 L362.4,282.3" fill="none" stroke="#2a9a4a" stroke-width="1.1" stroke-dasharray="2.6,1.0,0.7,1.0" />
<path d="M202.20,282.30 C204.83,282.30 214.70,282.37 218.00,282.30 C221.30,282.23 220.53,282.17 222.00,281.90 C223.47,281.63 225.13,281.20 226.80,280.70 C228.47,280.20 230.18,279.63 232.00,278.90 C233.82,278.17 235.95,277.17 237.70,276.30 C239.45,275.43 241.02,274.35 242.50,273.70 C243.98,273.05 245.27,272.53 246.60,272.40 C247.93,272.27 249.27,272.47 250.50,272.90 C251.73,273.33 252.83,274.08 254.00,275.00 C255.17,275.92 256.28,277.18 257.50,278.40 C258.72,279.62 260.13,281.07 261.30,282.30 C262.47,283.53 263.47,284.72 264.50,285.80 C265.53,286.88 266.50,287.90 267.50,288.80 C268.50,289.70 269.48,290.57 270.50,291.20 C271.52,291.83 272.52,292.37 273.60,292.60 C274.68,292.83 275.77,292.82 277.00,292.60 C278.23,292.38 279.67,291.80 281.00,291.30 C282.33,290.80 283.53,290.25 285.00,289.60 C286.47,288.95 288.13,288.03 289.80,287.40 C291.47,286.77 292.97,286.32 295.00,285.80 C297.03,285.28 299.50,284.73 302.00,284.30 C304.50,283.87 307.00,283.53 310.00,283.20 C313.00,282.87 318.33,282.45 320.00,282.30 L362.4,282.3" fill="none" stroke="#f0603a" stroke-width="1.25" stroke-dasharray="1.4,1.5" />
<line x1="260.1" y1="265.8" x2="260.1" y2="294.3" stroke="#f5a23c" stroke-width="1.0" stroke-dasharray="1.1,1.2"/>
</svg>
</body></html>
